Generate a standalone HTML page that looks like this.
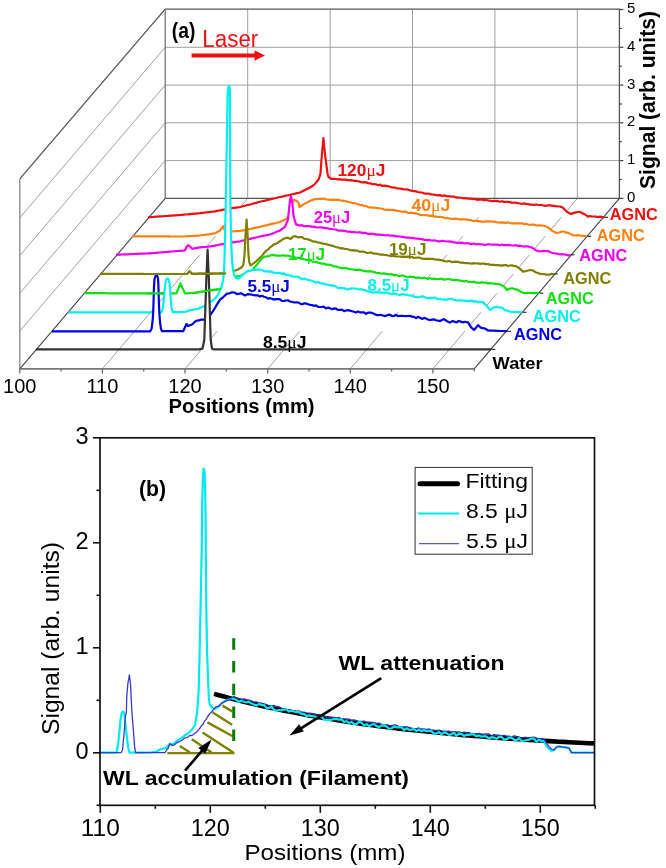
<!DOCTYPE html>
<html><head><meta charset="utf-8"><style>
html,body{margin:0;padding:0;background:#fff;}
body{width:666px;height:868px;position:relative;overflow:hidden;font-family:"Liberation Sans",sans-serif;}
</style></head><body>
<svg width="666" height="868" viewBox="0 0 666 868" style="position:absolute;left:0;top:0;will-change:transform">
<rect width="666" height="868" fill="#fff"/>
<g stroke="#a0a0a0" stroke-width="1" fill="none">
<line x1="165.2" y1="160.6" x2="619.4" y2="160.6"/>
<line x1="19.8" y1="331.1" x2="165.2" y2="160.6"/>
<line x1="165.2" y1="122.8" x2="619.4" y2="122.8"/>
<line x1="19.8" y1="293.3" x2="165.2" y2="122.8"/>
<line x1="165.2" y1="85.1" x2="619.4" y2="85.1"/>
<line x1="19.8" y1="255.6" x2="165.2" y2="85.1"/>
<line x1="165.2" y1="47.3" x2="619.4" y2="47.3"/>
<line x1="19.8" y1="217.8" x2="165.2" y2="47.3"/>
<line x1="247.7" y1="9.2" x2="247.7" y2="198.4"/>
<line x1="102.4" y1="368.9" x2="247.7" y2="198.4"/>
<line x1="330.2" y1="9.2" x2="330.2" y2="198.4"/>
<line x1="185.0" y1="368.9" x2="330.2" y2="198.4"/>
<line x1="412.5" y1="9.2" x2="412.5" y2="198.4"/>
<line x1="267.7" y1="368.9" x2="412.5" y2="198.4"/>
<line x1="494.9" y1="9.2" x2="494.9" y2="198.4"/>
<line x1="350.3" y1="368.9" x2="494.9" y2="198.4"/>
<line x1="577.3" y1="9.2" x2="577.3" y2="198.4"/>
<line x1="432.9" y1="368.9" x2="577.3" y2="198.4"/>
</g>
<g stroke="#555" stroke-width="1.3" fill="none">
<polyline points="19.8,178.9 165.2,9.2 619.4,9.2 619.4,198.4 165.2,198.4"/>
<line x1="19.8" y1="368.9" x2="19.8" y2="178.9" stroke="#888"/>
<line x1="165.2" y1="9.2" x2="165.2" y2="198.4" stroke="#777"/>
<line x1="19.8" y1="368.9" x2="165.2" y2="198.4" stroke="#444" stroke-width="1.1"/>
<line x1="474.2" y1="368.9" x2="619.4" y2="198.4" stroke="#444" stroke-width="1.1"/>
<line x1="19.8" y1="368.9" x2="474.2" y2="368.9" stroke="#777" stroke-width="1.8"/>
</g>
<g stroke="#444" stroke-width="1.2">
<line x1="619.4" y1="198.4" x2="623.4" y2="198.4"/>
<line x1="619.4" y1="179.5" x2="621.9" y2="179.5"/>
<line x1="619.4" y1="160.6" x2="623.4" y2="160.6"/>
<line x1="619.4" y1="141.7" x2="621.9" y2="141.7"/>
<line x1="619.4" y1="122.8" x2="623.4" y2="122.8"/>
<line x1="619.4" y1="104.0" x2="621.9" y2="104.0"/>
<line x1="619.4" y1="85.1" x2="623.4" y2="85.1"/>
<line x1="619.4" y1="66.2" x2="621.9" y2="66.2"/>
<line x1="619.4" y1="47.3" x2="623.4" y2="47.3"/>
<line x1="619.4" y1="28.4" x2="621.9" y2="28.4"/>
<line x1="619.4" y1="9.5" x2="623.4" y2="9.5"/>
</g>
<g stroke="#666" stroke-width="1.2">
<line x1="19.8" y1="368.9" x2="19.8" y2="373.4"/>
<line x1="61.1" y1="368.9" x2="61.1" y2="371.4"/>
<line x1="102.4" y1="368.9" x2="102.4" y2="373.4"/>
<line x1="143.7" y1="368.9" x2="143.7" y2="371.4"/>
<line x1="185.0" y1="368.9" x2="185.0" y2="373.4"/>
<line x1="226.3" y1="368.9" x2="226.3" y2="371.4"/>
<line x1="267.7" y1="368.9" x2="267.7" y2="373.4"/>
<line x1="309.0" y1="368.9" x2="309.0" y2="371.4"/>
<line x1="350.3" y1="368.9" x2="350.3" y2="373.4"/>
<line x1="391.6" y1="368.9" x2="391.6" y2="371.4"/>
<line x1="432.9" y1="368.9" x2="432.9" y2="373.4"/>
<line x1="474.2" y1="368.9" x2="474.2" y2="371.4"/>
</g>
<polygon points="148.0,217.3 150.0,217.2 152.0,217.0 154.0,216.9 156.0,216.7 158.0,216.6 160.0,216.4 162.0,216.3 164.0,216.2 166.0,216.0 168.0,215.9 170.0,215.7 172.0,215.6 174.0,215.4 176.0,215.3 178.0,215.1 180.0,215.0 182.0,214.8 184.0,214.6 186.0,214.5 188.0,214.3 190.0,214.1 192.0,213.9 194.0,213.7 196.0,213.6 198.0,213.4 200.0,213.2 202.1,212.9 204.3,212.7 206.4,212.4 208.6,212.1 210.7,211.8 212.9,211.6 215.0,211.3 217.1,210.9 219.3,210.5 221.4,210.1 223.6,209.7 225.7,209.3 227.9,208.9 230.0,208.5 232.0,208.2 234.0,207.9 236.0,207.6 238.0,207.3 240.0,207.0 242.0,206.5 244.0,206.0 246.0,205.5 248.0,205.0 250.0,204.5 252.0,204.0 254.0,203.4 256.0,202.9 258.0,202.3 260.0,201.8 262.0,201.3 264.0,200.8 266.0,200.4 268.0,199.9 270.0,199.4 272.0,198.9 274.0,198.4 276.0,198.0 278.0,197.5 280.0,197.0 282.0,196.6 284.0,196.1 286.0,195.7 288.0,195.2 290.0,194.8 292.0,194.3 294.0,193.8 296.0,193.4 298.0,192.9 300.0,192.5 302.0,191.5 304.0,190.5 306.0,189.5 308.0,188.5 310.0,187.5 314.0,184.9 316.3,182.2 318.6,179.5 320.4,174.0 321.8,156.0 323.4,138.0 325.2,156.0 327.6,174.0 328.5,177.0 331.0,178.8 333.1,178.8 335.2,178.8 337.3,179.5 339.4,179.1 341.6,179.7 343.7,179.7 345.8,179.6 347.9,180.2 350.0,180.4 352.0,180.2 354.0,180.9 356.0,180.8 358.0,181.2 360.0,181.8 362.0,182.5 364.0,182.1 366.0,182.4 368.0,183.1 370.0,183.3 372.0,184.1 374.0,184.1 376.0,184.3 378.0,185.2 380.0,184.6 382.0,185.8 384.0,185.6 386.0,185.8 388.0,186.2 390.0,186.7 392.0,187.6 394.0,187.3 396.0,188.1 398.0,188.5 400.0,188.7 402.0,188.9 404.0,189.5 406.0,189.3 408.0,189.7 410.0,190.2 412.0,191.0 414.0,191.1 416.0,191.4 418.0,192.0 420.0,192.3 422.0,192.5 424.0,193.3 426.0,193.6 428.0,193.5 430.0,194.1 432.0,194.4 434.0,194.6 436.0,195.2 438.0,195.3 440.0,195.1 442.0,196.0 444.0,195.4 446.0,195.9 448.0,196.5 450.0,196.2 452.0,196.7 454.0,196.5 456.0,197.4 458.0,197.7 460.0,197.7 462.0,198.0 464.0,198.4 466.0,198.1 468.0,198.6 470.0,198.7 472.0,198.9 474.0,198.9 476.0,199.5 478.0,199.8 480.0,199.5 482.0,199.7 484.0,200.1 486.0,199.7 488.0,200.5 490.0,200.6 492.0,201.2 494.0,201.2 496.0,200.9 498.0,201.2 500.0,201.7 502.0,201.2 504.0,201.9 506.0,201.8 508.0,201.9 510.0,202.1 512.0,203.0 514.0,202.5 516.0,202.8 518.0,203.2 520.0,203.5 522.0,204.0 524.0,203.4 526.0,203.9 528.0,204.1 530.0,204.6 532.0,204.7 534.0,204.9 536.0,204.5 538.0,204.8 540.0,205.0 542.0,205.0 544.0,205.7 546.0,205.9 548.0,205.3 550.0,205.4 552.0,205.6 554.0,205.8 556.0,206.2 558.0,206.4 560.0,206.5 563.0,207.8 567.0,211.9 571.0,213.9 575.0,212.6 577.5,212.0 580.0,211.9 584.0,213.9 588.0,216.6 590.0,216.1 592.0,216.5 594.0,216.5 596.0,216.7 598.0,217.1 600.0,216.6 604.0,217.3 604.0,217.3 148.0,217.3" fill="#fff" stroke="none"/>
<polyline points="148.0,217.3 150.0,217.2 152.0,217.0 154.0,216.9 156.0,216.7 158.0,216.6 160.0,216.4 162.0,216.3 164.0,216.2 166.0,216.0 168.0,215.9 170.0,215.7 172.0,215.6 174.0,215.4 176.0,215.3 178.0,215.1 180.0,215.0 182.0,214.8 184.0,214.6 186.0,214.5 188.0,214.3 190.0,214.1 192.0,213.9 194.0,213.7 196.0,213.6 198.0,213.4 200.0,213.2 202.1,212.9 204.3,212.7 206.4,212.4 208.6,212.1 210.7,211.8 212.9,211.6 215.0,211.3 217.1,210.9 219.3,210.5 221.4,210.1 223.6,209.7 225.7,209.3 227.9,208.9 230.0,208.5 232.0,208.2 234.0,207.9 236.0,207.6 238.0,207.3 240.0,207.0 242.0,206.5 244.0,206.0 246.0,205.5 248.0,205.0 250.0,204.5 252.0,204.0 254.0,203.4 256.0,202.9 258.0,202.3 260.0,201.8 262.0,201.3 264.0,200.8 266.0,200.4 268.0,199.9 270.0,199.4 272.0,198.9 274.0,198.4 276.0,198.0 278.0,197.5 280.0,197.0 282.0,196.6 284.0,196.1 286.0,195.7 288.0,195.2 290.0,194.8 292.0,194.3 294.0,193.8 296.0,193.4 298.0,192.9 300.0,192.5 302.0,191.5 304.0,190.5 306.0,189.5 308.0,188.5 310.0,187.5 314.0,184.9 316.3,182.2 318.6,179.5 320.4,174.0 321.8,156.0 323.4,138.0 325.2,156.0 327.6,174.0 328.5,177.0 331.0,178.8 333.1,178.8 335.2,178.8 337.3,179.5 339.4,179.1 341.6,179.7 343.7,179.7 345.8,179.6 347.9,180.2 350.0,180.4 352.0,180.2 354.0,180.9 356.0,180.8 358.0,181.2 360.0,181.8 362.0,182.5 364.0,182.1 366.0,182.4 368.0,183.1 370.0,183.3 372.0,184.1 374.0,184.1 376.0,184.3 378.0,185.2 380.0,184.6 382.0,185.8 384.0,185.6 386.0,185.8 388.0,186.2 390.0,186.7 392.0,187.6 394.0,187.3 396.0,188.1 398.0,188.5 400.0,188.7 402.0,188.9 404.0,189.5 406.0,189.3 408.0,189.7 410.0,190.2 412.0,191.0 414.0,191.1 416.0,191.4 418.0,192.0 420.0,192.3 422.0,192.5 424.0,193.3 426.0,193.6 428.0,193.5 430.0,194.1 432.0,194.4 434.0,194.6 436.0,195.2 438.0,195.3 440.0,195.1 442.0,196.0 444.0,195.4 446.0,195.9 448.0,196.5 450.0,196.2 452.0,196.7 454.0,196.5 456.0,197.4 458.0,197.7 460.0,197.7 462.0,198.0 464.0,198.4 466.0,198.1 468.0,198.6 470.0,198.7 472.0,198.9 474.0,198.9 476.0,199.5 478.0,199.8 480.0,199.5 482.0,199.7 484.0,200.1 486.0,199.7 488.0,200.5 490.0,200.6 492.0,201.2 494.0,201.2 496.0,200.9 498.0,201.2 500.0,201.7 502.0,201.2 504.0,201.9 506.0,201.8 508.0,201.9 510.0,202.1 512.0,203.0 514.0,202.5 516.0,202.8 518.0,203.2 520.0,203.5 522.0,204.0 524.0,203.4 526.0,203.9 528.0,204.1 530.0,204.6 532.0,204.7 534.0,204.9 536.0,204.5 538.0,204.8 540.0,205.0 542.0,205.0 544.0,205.7 546.0,205.9 548.0,205.3 550.0,205.4 552.0,205.6 554.0,205.8 556.0,206.2 558.0,206.4 560.0,206.5 563.0,207.8 567.0,211.9 571.0,213.9 575.0,212.6 577.5,212.0 580.0,211.9 584.0,213.9 588.0,216.6 590.0,216.1 592.0,216.5 594.0,216.5 596.0,216.7 598.0,217.1 600.0,216.6 604.0,217.3" fill="none" stroke="#ee1010" stroke-width="2.2" stroke-linejoin="round" stroke-linecap="butt"/>
<line x1="604.0" y1="217.3" x2="608.0" y2="217.3" stroke="#333" stroke-width="1.2"/>
<polygon points="132.0,236.3 134.0,236.3 136.1,236.3 138.1,236.3 140.2,236.3 142.2,236.3 144.2,236.3 146.3,236.4 148.3,236.4 150.4,236.4 152.4,236.4 154.4,236.4 156.5,236.4 158.5,236.4 160.6,236.4 162.6,236.4 164.6,236.4 166.7,236.4 168.7,236.4 170.8,236.5 172.8,236.5 174.8,236.5 176.9,236.5 178.9,236.5 181.0,236.5 183.0,236.5 185.1,236.4 187.2,236.2 189.4,236.1 191.5,236.0 193.6,235.9 195.8,235.8 197.9,235.6 200.0,235.5 202.0,235.2 204.0,235.0 206.0,234.7 208.0,234.5 210.0,234.2 212.8,233.6 215.7,233.0 217.8,231.8 220.0,230.5 223.2,226.2 225.0,230.8 226.0,231.5 228.5,231.5 231.0,231.5 233.2,231.4 235.5,231.2 237.8,231.1 240.0,231.0 242.0,230.6 244.0,230.2 246.0,229.8 248.0,229.4 250.0,229.0 252.0,228.6 254.0,228.1 256.0,227.7 258.0,227.2 260.0,226.8 262.0,226.3 264.0,225.8 266.0,225.4 268.0,224.9 270.0,224.4 272.0,223.9 274.0,223.4 276.0,223.0 278.0,222.5 280.0,222.0 282.0,220.9 284.0,219.9 286.0,218.9 288.0,217.8 290.0,212.0 292.0,203.0 294.0,199.8 296.5,201.0 298.3,202.2 299.5,207.0 301.3,205.8 304.9,203.4 307.3,202.4 309.7,201.0 312.1,200.1 314.5,199.2 317.2,199.0 320.0,198.6 322.0,198.9 324.0,198.5 326.0,199.5 328.0,199.5 330.0,199.8 332.0,199.9 334.0,199.6 336.0,199.8 338.0,199.6 340.0,200.2 342.0,200.8 344.0,200.7 346.0,201.2 348.0,201.8 350.0,202.3 352.0,202.9 354.0,203.1 356.0,203.5 358.0,204.2 360.0,205.0 362.0,205.1 364.0,205.8 366.0,205.9 368.0,207.2 370.0,207.3 372.0,207.7 374.0,207.5 376.0,207.9 378.0,208.2 380.0,208.5 382.0,208.5 384.0,209.5 386.0,209.9 388.0,209.7 390.0,210.0 392.0,209.8 394.0,210.1 396.0,210.6 398.0,210.8 400.0,211.3 402.0,211.9 404.0,211.6 406.0,211.7 408.0,213.0 410.0,212.8 412.0,212.7 414.0,213.4 416.0,213.2 418.0,214.0 420.0,214.8 422.0,215.0 424.0,215.1 426.0,215.0 428.0,215.4 430.0,215.8 432.0,215.7 434.0,216.6 436.0,216.6 438.0,217.0 440.0,216.8 442.0,217.0 444.0,217.8 446.0,218.2 448.0,218.3 450.0,218.5 452.0,218.8 454.0,218.9 456.0,218.6 458.0,219.2 460.0,219.4 462.0,219.4 464.0,219.3 466.0,219.4 468.0,219.9 470.0,220.0 472.0,220.6 474.0,221.0 476.0,220.7 478.0,221.4 480.0,221.1 482.0,221.7 484.0,221.8 486.0,221.3 488.0,221.3 490.0,221.4 492.0,221.5 494.0,221.6 496.0,222.1 498.0,222.5 500.0,222.6 502.0,222.3 504.0,222.6 506.0,222.9 508.0,222.3 510.0,223.0 512.0,223.3 514.0,223.3 516.0,223.4 518.0,223.3 520.0,223.4 522.0,223.3 524.0,224.1 526.0,223.8 528.0,224.5 530.0,224.9 532.0,224.5 534.0,224.7 536.0,225.4 538.0,225.4 540.0,225.4 542.3,225.5 544.7,226.0 547.0,226.8 549.5,228.5 552.0,230.8 556.0,232.8 558.0,232.8 560.0,232.2 562.0,231.5 564.0,231.5 566.0,232.6 568.0,232.6 572.0,234.9 574.0,235.5 576.0,235.4 578.0,235.2 580.0,235.5 582.4,235.9 584.8,235.8 587.2,236.5 587.2,236.3 132.0,236.3" fill="#fff" stroke="none"/>
<polyline points="132.0,236.3 134.0,236.3 136.1,236.3 138.1,236.3 140.2,236.3 142.2,236.3 144.2,236.3 146.3,236.4 148.3,236.4 150.4,236.4 152.4,236.4 154.4,236.4 156.5,236.4 158.5,236.4 160.6,236.4 162.6,236.4 164.6,236.4 166.7,236.4 168.7,236.4 170.8,236.5 172.8,236.5 174.8,236.5 176.9,236.5 178.9,236.5 181.0,236.5 183.0,236.5 185.1,236.4 187.2,236.2 189.4,236.1 191.5,236.0 193.6,235.9 195.8,235.8 197.9,235.6 200.0,235.5 202.0,235.2 204.0,235.0 206.0,234.7 208.0,234.5 210.0,234.2 212.8,233.6 215.7,233.0 217.8,231.8 220.0,230.5 223.2,226.2 225.0,230.8 226.0,231.5 228.5,231.5 231.0,231.5 233.2,231.4 235.5,231.2 237.8,231.1 240.0,231.0 242.0,230.6 244.0,230.2 246.0,229.8 248.0,229.4 250.0,229.0 252.0,228.6 254.0,228.1 256.0,227.7 258.0,227.2 260.0,226.8 262.0,226.3 264.0,225.8 266.0,225.4 268.0,224.9 270.0,224.4 272.0,223.9 274.0,223.4 276.0,223.0 278.0,222.5 280.0,222.0 282.0,220.9 284.0,219.9 286.0,218.9 288.0,217.8 290.0,212.0 292.0,203.0 294.0,199.8 296.5,201.0 298.3,202.2 299.5,207.0 301.3,205.8 304.9,203.4 307.3,202.4 309.7,201.0 312.1,200.1 314.5,199.2 317.2,199.0 320.0,198.6 322.0,198.9 324.0,198.5 326.0,199.5 328.0,199.5 330.0,199.8 332.0,199.9 334.0,199.6 336.0,199.8 338.0,199.6 340.0,200.2 342.0,200.8 344.0,200.7 346.0,201.2 348.0,201.8 350.0,202.3 352.0,202.9 354.0,203.1 356.0,203.5 358.0,204.2 360.0,205.0 362.0,205.1 364.0,205.8 366.0,205.9 368.0,207.2 370.0,207.3 372.0,207.7 374.0,207.5 376.0,207.9 378.0,208.2 380.0,208.5 382.0,208.5 384.0,209.5 386.0,209.9 388.0,209.7 390.0,210.0 392.0,209.8 394.0,210.1 396.0,210.6 398.0,210.8 400.0,211.3 402.0,211.9 404.0,211.6 406.0,211.7 408.0,213.0 410.0,212.8 412.0,212.7 414.0,213.4 416.0,213.2 418.0,214.0 420.0,214.8 422.0,215.0 424.0,215.1 426.0,215.0 428.0,215.4 430.0,215.8 432.0,215.7 434.0,216.6 436.0,216.6 438.0,217.0 440.0,216.8 442.0,217.0 444.0,217.8 446.0,218.2 448.0,218.3 450.0,218.5 452.0,218.8 454.0,218.9 456.0,218.6 458.0,219.2 460.0,219.4 462.0,219.4 464.0,219.3 466.0,219.4 468.0,219.9 470.0,220.0 472.0,220.6 474.0,221.0 476.0,220.7 478.0,221.4 480.0,221.1 482.0,221.7 484.0,221.8 486.0,221.3 488.0,221.3 490.0,221.4 492.0,221.5 494.0,221.6 496.0,222.1 498.0,222.5 500.0,222.6 502.0,222.3 504.0,222.6 506.0,222.9 508.0,222.3 510.0,223.0 512.0,223.3 514.0,223.3 516.0,223.4 518.0,223.3 520.0,223.4 522.0,223.3 524.0,224.1 526.0,223.8 528.0,224.5 530.0,224.9 532.0,224.5 534.0,224.7 536.0,225.4 538.0,225.4 540.0,225.4 542.3,225.5 544.7,226.0 547.0,226.8 549.5,228.5 552.0,230.8 556.0,232.8 558.0,232.8 560.0,232.2 562.0,231.5 564.0,231.5 566.0,232.6 568.0,232.6 572.0,234.9 574.0,235.5 576.0,235.4 578.0,235.2 580.0,235.5 582.4,235.9 584.8,235.8 587.2,236.5" fill="none" stroke="#ff8010" stroke-width="2.2" stroke-linejoin="round" stroke-linecap="butt"/>
<line x1="587.2" y1="236.3" x2="591.2" y2="236.3" stroke="#333" stroke-width="1.2"/>
<polygon points="116.0,254.8 118.0,254.7 120.0,254.6 122.0,254.5 124.0,254.4 126.0,254.4 128.0,254.3 130.0,254.2 132.0,254.1 134.0,254.0 136.0,253.9 138.0,253.8 140.0,253.7 142.0,253.7 144.0,253.6 146.0,253.5 148.0,253.4 150.0,253.3 152.0,253.1 154.0,253.0 156.0,252.8 158.0,252.6 160.0,252.5 162.0,252.3 164.0,252.1 166.0,252.0 168.0,251.8 170.0,251.6 172.0,251.5 174.0,251.3 176.0,251.1 178.0,251.0 180.0,250.8 182.5,250.6 185.0,250.3 186.5,247.0 188.0,245.2 190.0,246.5 192.0,248.8 194.0,248.4 196.0,248.1 198.0,247.7 200.0,247.3 202.0,247.1 204.0,247.0 206.0,246.8 208.0,246.7 210.0,246.5 212.0,246.1 214.0,245.8 216.0,245.4 218.0,245.0 220.0,244.6 222.0,244.2 224.0,243.9 226.0,243.5 228.0,243.2 230.0,242.9 232.0,242.6 234.0,242.2 236.0,241.9 238.0,241.6 240.0,241.3 242.0,240.8 244.0,240.3 246.0,239.9 248.0,239.4 250.0,238.9 252.0,238.4 254.0,237.9 256.0,237.5 258.0,237.0 260.0,236.5 262.0,236.1 264.0,235.7 266.0,235.3 268.0,234.9 270.0,234.5 272.0,233.7 274.0,232.9 276.0,232.1 278.0,231.3 280.0,230.5 282.5,228.7 285.0,226.8 288.0,219.6 289.0,210.0 290.0,200.0 291.0,196.2 292.5,204.0 293.5,216.0 296.0,224.4 300.0,225.6 302.0,225.2 304.0,226.3 306.0,226.1 308.0,226.1 310.0,226.2 312.0,226.9 314.0,226.6 316.0,227.3 318.0,227.5 320.0,227.4 322.0,227.4 324.0,227.8 326.0,228.1 328.0,228.4 330.0,229.0 332.0,229.0 334.0,229.5 336.0,229.5 338.0,230.6 340.0,230.5 342.0,230.6 344.0,230.9 346.0,231.2 348.0,231.8 350.0,231.5 352.0,232.2 354.0,232.0 356.0,232.3 358.0,232.5 360.0,232.2 362.0,232.9 364.0,232.8 366.0,232.9 368.0,233.9 370.0,233.8 372.0,233.7 374.0,234.1 376.0,234.6 378.0,234.6 380.0,234.5 382.0,234.9 384.0,235.1 386.0,235.5 388.0,235.0 390.0,235.7 392.0,235.5 394.0,235.7 396.0,236.4 398.0,236.3 400.0,236.5 402.0,236.8 404.0,237.2 406.0,237.6 408.0,237.4 410.0,237.8 412.0,237.9 414.0,238.2 416.0,238.6 418.0,238.6 420.0,238.9 422.0,239.1 424.0,239.8 426.0,239.8 428.0,240.2 430.0,240.1 432.0,240.7 434.0,240.2 436.0,240.7 438.0,241.3 440.0,241.3 442.0,240.8 444.0,241.0 446.0,241.5 448.0,241.3 450.0,241.6 452.0,241.7 454.0,242.4 456.0,242.7 458.0,243.0 460.0,242.8 462.0,242.6 464.0,243.3 466.0,243.4 468.0,243.0 470.0,243.9 472.0,244.1 474.0,243.5 476.0,244.4 478.0,244.0 480.0,244.2 482.0,244.3 484.0,244.8 486.0,244.8 488.0,244.2 490.0,244.5 492.0,244.7 494.0,244.6 496.0,244.5 498.0,244.7 500.0,245.2 502.0,244.5 504.0,245.2 506.0,245.1 508.0,244.8 510.0,245.2 512.0,245.5 514.0,245.5 516.0,245.1 518.0,246.1 520.0,245.7 522.0,246.2 524.0,246.7 526.0,246.1 528.0,246.5 530.0,247.0 532.5,247.9 535.0,249.7 537.5,250.9 540.0,251.5 542.0,251.2 544.0,250.9 546.0,251.1 548.0,251.1 550.3,252.3 552.7,253.0 555.0,253.4 557.5,253.7 560.0,254.5 562.5,254.1 565.0,254.5 567.7,255.3 570.4,255.2 570.4,254.8 116.0,254.8" fill="#fff" stroke="none"/>
<polyline points="116.0,254.8 118.0,254.7 120.0,254.6 122.0,254.5 124.0,254.4 126.0,254.4 128.0,254.3 130.0,254.2 132.0,254.1 134.0,254.0 136.0,253.9 138.0,253.8 140.0,253.7 142.0,253.7 144.0,253.6 146.0,253.5 148.0,253.4 150.0,253.3 152.0,253.1 154.0,253.0 156.0,252.8 158.0,252.6 160.0,252.5 162.0,252.3 164.0,252.1 166.0,252.0 168.0,251.8 170.0,251.6 172.0,251.5 174.0,251.3 176.0,251.1 178.0,251.0 180.0,250.8 182.5,250.6 185.0,250.3 186.5,247.0 188.0,245.2 190.0,246.5 192.0,248.8 194.0,248.4 196.0,248.1 198.0,247.7 200.0,247.3 202.0,247.1 204.0,247.0 206.0,246.8 208.0,246.7 210.0,246.5 212.0,246.1 214.0,245.8 216.0,245.4 218.0,245.0 220.0,244.6 222.0,244.2 224.0,243.9 226.0,243.5 228.0,243.2 230.0,242.9 232.0,242.6 234.0,242.2 236.0,241.9 238.0,241.6 240.0,241.3 242.0,240.8 244.0,240.3 246.0,239.9 248.0,239.4 250.0,238.9 252.0,238.4 254.0,237.9 256.0,237.5 258.0,237.0 260.0,236.5 262.0,236.1 264.0,235.7 266.0,235.3 268.0,234.9 270.0,234.5 272.0,233.7 274.0,232.9 276.0,232.1 278.0,231.3 280.0,230.5 282.5,228.7 285.0,226.8 288.0,219.6 289.0,210.0 290.0,200.0 291.0,196.2 292.5,204.0 293.5,216.0 296.0,224.4 300.0,225.6 302.0,225.2 304.0,226.3 306.0,226.1 308.0,226.1 310.0,226.2 312.0,226.9 314.0,226.6 316.0,227.3 318.0,227.5 320.0,227.4 322.0,227.4 324.0,227.8 326.0,228.1 328.0,228.4 330.0,229.0 332.0,229.0 334.0,229.5 336.0,229.5 338.0,230.6 340.0,230.5 342.0,230.6 344.0,230.9 346.0,231.2 348.0,231.8 350.0,231.5 352.0,232.2 354.0,232.0 356.0,232.3 358.0,232.5 360.0,232.2 362.0,232.9 364.0,232.8 366.0,232.9 368.0,233.9 370.0,233.8 372.0,233.7 374.0,234.1 376.0,234.6 378.0,234.6 380.0,234.5 382.0,234.9 384.0,235.1 386.0,235.5 388.0,235.0 390.0,235.7 392.0,235.5 394.0,235.7 396.0,236.4 398.0,236.3 400.0,236.5 402.0,236.8 404.0,237.2 406.0,237.6 408.0,237.4 410.0,237.8 412.0,237.9 414.0,238.2 416.0,238.6 418.0,238.6 420.0,238.9 422.0,239.1 424.0,239.8 426.0,239.8 428.0,240.2 430.0,240.1 432.0,240.7 434.0,240.2 436.0,240.7 438.0,241.3 440.0,241.3 442.0,240.8 444.0,241.0 446.0,241.5 448.0,241.3 450.0,241.6 452.0,241.7 454.0,242.4 456.0,242.7 458.0,243.0 460.0,242.8 462.0,242.6 464.0,243.3 466.0,243.4 468.0,243.0 470.0,243.9 472.0,244.1 474.0,243.5 476.0,244.4 478.0,244.0 480.0,244.2 482.0,244.3 484.0,244.8 486.0,244.8 488.0,244.2 490.0,244.5 492.0,244.7 494.0,244.6 496.0,244.5 498.0,244.7 500.0,245.2 502.0,244.5 504.0,245.2 506.0,245.1 508.0,244.8 510.0,245.2 512.0,245.5 514.0,245.5 516.0,245.1 518.0,246.1 520.0,245.7 522.0,246.2 524.0,246.7 526.0,246.1 528.0,246.5 530.0,247.0 532.5,247.9 535.0,249.7 537.5,250.9 540.0,251.5 542.0,251.2 544.0,250.9 546.0,251.1 548.0,251.1 550.3,252.3 552.7,253.0 555.0,253.4 557.5,253.7 560.0,254.5 562.5,254.1 565.0,254.5 567.7,255.3 570.4,255.2" fill="none" stroke="#f000f0" stroke-width="2.2" stroke-linejoin="round" stroke-linecap="butt"/>
<line x1="570.4" y1="254.8" x2="574.4" y2="254.8" stroke="#333" stroke-width="1.2"/>
<polygon points="100.0,273.9 102.0,273.9 104.0,273.9 106.1,273.9 108.1,273.9 110.1,273.9 112.1,273.9 114.2,273.9 116.2,273.9 118.2,273.9 120.2,273.9 122.3,273.9 124.3,273.9 126.3,273.9 128.3,273.9 130.3,273.9 132.4,273.9 134.4,273.9 136.4,273.9 138.4,273.9 140.5,273.9 142.5,273.9 144.5,274.0 146.5,274.0 148.6,274.0 150.6,274.0 152.6,274.0 154.6,274.0 156.7,274.0 158.7,274.0 160.7,274.0 162.7,274.0 164.7,274.0 166.8,274.0 168.8,274.0 170.8,274.0 172.8,274.0 174.9,274.0 176.9,274.0 178.9,274.0 180.9,274.0 183.0,274.0 185.0,274.0 187.0,274.0 189.5,271.3 192.0,273.8 194.1,273.8 196.1,273.8 198.2,273.7 200.2,273.7 202.3,273.7 204.4,273.6 206.4,273.6 208.5,273.6 210.6,273.6 212.6,273.6 214.7,273.5 216.8,273.5 218.8,273.5 220.9,273.4 222.9,273.4 225.0,273.4 227.3,272.8 229.7,272.1 232.0,271.5 234.0,270.8 236.0,270.2 238.0,269.5 242.0,267.0 243.5,264.0 244.5,255.0 245.5,235.0 246.6,219.6 247.6,235.0 248.5,255.0 249.2,262.0 250.5,265.3 252.8,263.8 255.0,262.3 257.3,260.2 259.7,258.1 262.0,255.7 264.0,253.1 266.0,251.0 268.0,249.7 270.0,247.4 272.2,245.9 274.3,244.1 276.5,243.7 278.7,242.0 280.8,240.8 283.0,239.0 287.0,237.7 291.0,238.9 293.0,236.5 295.3,236.2 297.7,237.3 300.0,237.0 302.2,237.2 304.4,238.8 306.6,239.0 308.8,239.6 311.0,240.5 313.2,241.6 315.4,241.5 317.6,242.5 319.6,242.6 321.6,243.5 323.6,243.7 325.6,244.0 327.6,244.6 329.6,245.0 331.6,245.6 333.6,246.3 335.6,247.0 337.9,247.3 340.1,248.3 342.4,248.2 344.6,248.9 346.9,249.0 349.1,249.7 351.4,250.4 353.4,250.1 355.4,250.6 357.4,250.6 359.4,251.7 361.4,251.7 363.4,251.6 365.4,252.2 367.4,253.0 369.4,252.7 371.6,252.6 373.9,253.7 376.1,253.6 378.3,254.0 380.5,254.7 382.8,254.5 385.0,255.0 387.1,255.2 389.3,255.7 391.4,256.2 393.6,255.7 395.7,256.5 397.9,256.5 400.0,256.5 402.0,256.8 404.0,256.7 406.0,256.8 408.0,256.6 410.0,256.9 412.0,257.0 414.0,258.0 416.0,257.5 418.0,257.6 420.0,257.7 422.0,258.7 424.0,258.9 426.0,258.9 428.0,258.6 430.0,259.0 432.0,258.9 434.0,259.2 436.0,259.7 438.0,259.5 440.0,260.1 442.0,260.2 444.0,261.2 446.0,261.5 448.0,261.2 450.0,261.1 452.0,262.2 454.0,261.7 456.0,261.9 458.0,261.8 460.0,262.6 462.0,262.6 464.0,262.9 466.0,263.1 468.0,263.0 470.0,263.5 472.0,263.6 474.0,263.1 476.0,263.5 478.0,263.4 480.0,263.9 482.0,263.6 484.0,263.7 486.0,264.1 488.0,264.2 490.0,264.6 492.0,264.8 494.0,264.8 496.0,265.2 498.0,265.1 500.0,265.3 502.0,265.6 504.0,265.1 506.0,265.1 508.0,266.0 510.0,265.5 512.0,265.3 514.0,266.2 516.0,266.2 520.0,268.9 523.0,271.6 525.5,271.2 528.0,270.5 530.5,270.0 533.0,270.5 535.5,272.2 538.0,273.0 540.3,273.9 542.7,274.0 545.0,274.3 547.1,274.6 549.3,274.7 551.5,273.9 553.6,274.3 553.6,273.9 100.0,273.9" fill="#fff" stroke="none"/>
<polyline points="100.0,273.9 102.0,273.9 104.0,273.9 106.1,273.9 108.1,273.9 110.1,273.9 112.1,273.9 114.2,273.9 116.2,273.9 118.2,273.9 120.2,273.9 122.3,273.9 124.3,273.9 126.3,273.9 128.3,273.9 130.3,273.9 132.4,273.9 134.4,273.9 136.4,273.9 138.4,273.9 140.5,273.9 142.5,273.9 144.5,274.0 146.5,274.0 148.6,274.0 150.6,274.0 152.6,274.0 154.6,274.0 156.7,274.0 158.7,274.0 160.7,274.0 162.7,274.0 164.7,274.0 166.8,274.0 168.8,274.0 170.8,274.0 172.8,274.0 174.9,274.0 176.9,274.0 178.9,274.0 180.9,274.0 183.0,274.0 185.0,274.0 187.0,274.0 189.5,271.3 192.0,273.8 194.1,273.8 196.1,273.8 198.2,273.7 200.2,273.7 202.3,273.7 204.4,273.6 206.4,273.6 208.5,273.6 210.6,273.6 212.6,273.6 214.7,273.5 216.8,273.5 218.8,273.5 220.9,273.4 222.9,273.4 225.0,273.4 227.3,272.8 229.7,272.1 232.0,271.5 234.0,270.8 236.0,270.2 238.0,269.5 242.0,267.0 243.5,264.0 244.5,255.0 245.5,235.0 246.6,219.6 247.6,235.0 248.5,255.0 249.2,262.0 250.5,265.3 252.8,263.8 255.0,262.3 257.3,260.2 259.7,258.1 262.0,255.7 264.0,253.1 266.0,251.0 268.0,249.7 270.0,247.4 272.2,245.9 274.3,244.1 276.5,243.7 278.7,242.0 280.8,240.8 283.0,239.0 287.0,237.7 291.0,238.9 293.0,236.5 295.3,236.2 297.7,237.3 300.0,237.0 302.2,237.2 304.4,238.8 306.6,239.0 308.8,239.6 311.0,240.5 313.2,241.6 315.4,241.5 317.6,242.5 319.6,242.6 321.6,243.5 323.6,243.7 325.6,244.0 327.6,244.6 329.6,245.0 331.6,245.6 333.6,246.3 335.6,247.0 337.9,247.3 340.1,248.3 342.4,248.2 344.6,248.9 346.9,249.0 349.1,249.7 351.4,250.4 353.4,250.1 355.4,250.6 357.4,250.6 359.4,251.7 361.4,251.7 363.4,251.6 365.4,252.2 367.4,253.0 369.4,252.7 371.6,252.6 373.9,253.7 376.1,253.6 378.3,254.0 380.5,254.7 382.8,254.5 385.0,255.0 387.1,255.2 389.3,255.7 391.4,256.2 393.6,255.7 395.7,256.5 397.9,256.5 400.0,256.5 402.0,256.8 404.0,256.7 406.0,256.8 408.0,256.6 410.0,256.9 412.0,257.0 414.0,258.0 416.0,257.5 418.0,257.6 420.0,257.7 422.0,258.7 424.0,258.9 426.0,258.9 428.0,258.6 430.0,259.0 432.0,258.9 434.0,259.2 436.0,259.7 438.0,259.5 440.0,260.1 442.0,260.2 444.0,261.2 446.0,261.5 448.0,261.2 450.0,261.1 452.0,262.2 454.0,261.7 456.0,261.9 458.0,261.8 460.0,262.6 462.0,262.6 464.0,262.9 466.0,263.1 468.0,263.0 470.0,263.5 472.0,263.6 474.0,263.1 476.0,263.5 478.0,263.4 480.0,263.9 482.0,263.6 484.0,263.7 486.0,264.1 488.0,264.2 490.0,264.6 492.0,264.8 494.0,264.8 496.0,265.2 498.0,265.1 500.0,265.3 502.0,265.6 504.0,265.1 506.0,265.1 508.0,266.0 510.0,265.5 512.0,265.3 514.0,266.2 516.0,266.2 520.0,268.9 523.0,271.6 525.5,271.2 528.0,270.5 530.5,270.0 533.0,270.5 535.5,272.2 538.0,273.0 540.3,273.9 542.7,274.0 545.0,274.3 547.1,274.6 549.3,274.7 551.5,273.9 553.6,274.3" fill="none" stroke="#808000" stroke-width="2.2" stroke-linejoin="round" stroke-linecap="butt"/>
<line x1="553.6" y1="273.9" x2="557.6" y2="273.9" stroke="#333" stroke-width="1.2"/>
<polygon points="84.0,293.2 86.0,293.2 88.0,293.2 90.0,293.2 92.0,293.2 94.1,293.2 96.1,293.2 98.1,293.2 100.1,293.2 102.1,293.2 104.1,293.2 106.1,293.2 108.1,293.3 110.1,293.3 112.2,293.3 114.2,293.3 116.2,293.3 118.2,293.3 120.2,293.3 122.2,293.3 124.2,293.3 126.2,293.3 128.2,293.3 130.2,293.3 132.3,293.3 134.3,293.3 136.3,293.3 138.3,293.3 140.3,293.3 142.3,293.3 144.3,293.3 146.3,293.3 148.3,293.3 150.4,293.3 152.4,293.3 154.4,293.4 156.4,293.4 158.4,293.4 160.4,293.4 162.4,293.4 164.4,293.4 166.4,293.4 168.5,293.4 170.5,293.4 172.5,293.4 174.5,293.4 176.5,293.4 178.5,288.0 180.5,283.5 182.5,288.0 185.0,293.4 187.0,293.3 189.0,293.2 191.0,293.0 193.0,292.9 195.0,292.8 197.5,292.4 200.0,292.0 202.0,291.7 204.0,291.4 206.0,291.0 208.0,290.7 210.0,290.4 212.0,290.1 214.0,289.8 216.0,289.6 218.0,289.3 220.0,289.0 222.0,288.5 226.0,284.0 228.0,281.7 230.0,279.3 232.0,277.0 234.0,276.8 236.0,276.5 238.0,276.2 240.0,276.0 242.0,275.0 244.0,274.0 246.0,273.0 248.0,272.0 252.0,270.6 254.0,268.1 256.0,265.7 258.0,263.2 260.0,261.1 262.0,258.2 265.0,256.5 267.3,256.3 269.7,255.8 272.0,254.9 274.2,255.1 276.3,255.6 278.5,255.5 280.7,255.7 282.8,255.2 285.0,255.7 287.1,255.5 289.3,256.0 291.4,256.6 293.6,256.7 295.7,257.9 297.9,257.9 300.0,258.2 302.0,258.8 304.0,259.3 306.0,259.9 308.0,260.1 310.0,260.1 312.0,261.5 314.0,261.9 316.0,262.1 318.0,262.7 320.0,263.1 322.0,263.7 324.0,263.5 326.0,264.7 328.0,264.6 330.0,264.8 332.0,265.5 334.0,266.5 336.0,266.3 338.0,267.3 340.0,267.5 342.0,268.4 344.0,268.1 346.0,268.2 348.0,268.6 350.0,269.1 352.0,269.5 354.0,269.6 356.0,270.0 358.0,269.6 360.0,269.9 362.0,270.3 364.0,271.2 366.0,271.0 368.0,271.6 370.0,271.2 372.0,271.5 374.0,272.1 376.0,272.8 378.0,273.1 380.0,273.2 382.0,273.7 384.0,273.4 386.0,273.9 388.0,274.1 390.0,274.4 392.0,274.2 394.0,275.4 396.0,274.8 398.0,275.9 400.0,276.1 402.0,275.3 404.0,276.0 406.0,276.7 408.0,277.1 410.0,276.7 412.0,276.8 414.0,276.9 416.0,278.1 418.0,277.4 420.0,278.0 422.0,278.2 424.0,277.7 426.0,278.3 428.0,278.9 430.0,278.0 432.0,278.9 434.0,278.6 436.0,279.1 438.0,279.0 440.0,278.8 442.0,278.7 444.0,279.7 446.0,279.4 448.0,279.0 450.0,279.2 452.0,280.0 454.0,280.1 456.0,280.2 458.0,280.2 460.0,280.6 462.0,280.8 464.0,281.6 466.0,280.8 468.0,281.9 470.0,281.8 472.0,282.3 474.0,281.6 476.0,282.7 478.0,282.6 480.0,282.9 482.0,282.3 484.0,282.6 486.0,282.7 488.0,283.6 490.0,283.1 492.0,283.5 494.0,283.5 496.0,283.9 498.0,284.0 500.0,284.5 504.0,286.5 507.0,289.9 510.0,288.5 512.5,288.3 515.0,289.2 517.5,289.7 520.0,291.2 522.5,292.6 525.0,293.2 527.5,292.8 530.0,293.0 532.3,293.1 534.6,293.1 537.0,293.1 539.3,293.2 539.3,293.2 84.0,293.2" fill="#fff" stroke="none"/>
<polyline points="84.0,293.2 86.0,293.2 88.0,293.2 90.0,293.2 92.0,293.2 94.1,293.2 96.1,293.2 98.1,293.2 100.1,293.2 102.1,293.2 104.1,293.2 106.1,293.2 108.1,293.3 110.1,293.3 112.2,293.3 114.2,293.3 116.2,293.3 118.2,293.3 120.2,293.3 122.2,293.3 124.2,293.3 126.2,293.3 128.2,293.3 130.2,293.3 132.3,293.3 134.3,293.3 136.3,293.3 138.3,293.3 140.3,293.3 142.3,293.3 144.3,293.3 146.3,293.3 148.3,293.3 150.4,293.3 152.4,293.3 154.4,293.4 156.4,293.4 158.4,293.4 160.4,293.4 162.4,293.4 164.4,293.4 166.4,293.4 168.5,293.4 170.5,293.4 172.5,293.4 174.5,293.4 176.5,293.4 178.5,288.0 180.5,283.5 182.5,288.0 185.0,293.4 187.0,293.3 189.0,293.2 191.0,293.0 193.0,292.9 195.0,292.8 197.5,292.4 200.0,292.0 202.0,291.7 204.0,291.4 206.0,291.0 208.0,290.7 210.0,290.4 212.0,290.1 214.0,289.8 216.0,289.6 218.0,289.3 220.0,289.0 222.0,288.5 226.0,284.0 228.0,281.7 230.0,279.3 232.0,277.0 234.0,276.8 236.0,276.5 238.0,276.2 240.0,276.0 242.0,275.0 244.0,274.0 246.0,273.0 248.0,272.0 252.0,270.6 254.0,268.1 256.0,265.7 258.0,263.2 260.0,261.1 262.0,258.2 265.0,256.5 267.3,256.3 269.7,255.8 272.0,254.9 274.2,255.1 276.3,255.6 278.5,255.5 280.7,255.7 282.8,255.2 285.0,255.7 287.1,255.5 289.3,256.0 291.4,256.6 293.6,256.7 295.7,257.9 297.9,257.9 300.0,258.2 302.0,258.8 304.0,259.3 306.0,259.9 308.0,260.1 310.0,260.1 312.0,261.5 314.0,261.9 316.0,262.1 318.0,262.7 320.0,263.1 322.0,263.7 324.0,263.5 326.0,264.7 328.0,264.6 330.0,264.8 332.0,265.5 334.0,266.5 336.0,266.3 338.0,267.3 340.0,267.5 342.0,268.4 344.0,268.1 346.0,268.2 348.0,268.6 350.0,269.1 352.0,269.5 354.0,269.6 356.0,270.0 358.0,269.6 360.0,269.9 362.0,270.3 364.0,271.2 366.0,271.0 368.0,271.6 370.0,271.2 372.0,271.5 374.0,272.1 376.0,272.8 378.0,273.1 380.0,273.2 382.0,273.7 384.0,273.4 386.0,273.9 388.0,274.1 390.0,274.4 392.0,274.2 394.0,275.4 396.0,274.8 398.0,275.9 400.0,276.1 402.0,275.3 404.0,276.0 406.0,276.7 408.0,277.1 410.0,276.7 412.0,276.8 414.0,276.9 416.0,278.1 418.0,277.4 420.0,278.0 422.0,278.2 424.0,277.7 426.0,278.3 428.0,278.9 430.0,278.0 432.0,278.9 434.0,278.6 436.0,279.1 438.0,279.0 440.0,278.8 442.0,278.7 444.0,279.7 446.0,279.4 448.0,279.0 450.0,279.2 452.0,280.0 454.0,280.1 456.0,280.2 458.0,280.2 460.0,280.6 462.0,280.8 464.0,281.6 466.0,280.8 468.0,281.9 470.0,281.8 472.0,282.3 474.0,281.6 476.0,282.7 478.0,282.6 480.0,282.9 482.0,282.3 484.0,282.6 486.0,282.7 488.0,283.6 490.0,283.1 492.0,283.5 494.0,283.5 496.0,283.9 498.0,284.0 500.0,284.5 504.0,286.5 507.0,289.9 510.0,288.5 512.5,288.3 515.0,289.2 517.5,289.7 520.0,291.2 522.5,292.6 525.0,293.2 527.5,292.8 530.0,293.0 532.3,293.1 534.6,293.1 537.0,293.1 539.3,293.2" fill="none" stroke="#10e010" stroke-width="2.2" stroke-linejoin="round" stroke-linecap="butt"/>
<line x1="539.3" y1="293.2" x2="543.3" y2="293.2" stroke="#333" stroke-width="1.2"/>
<polygon points="68.0,312.3 70.0,312.3 72.1,312.3 74.1,312.3 76.1,312.3 78.2,312.3 80.2,312.3 82.2,312.3 84.3,312.3 86.3,312.3 88.3,312.3 90.4,312.3 92.4,312.3 94.5,312.3 96.5,312.3 98.5,312.3 100.6,312.3 102.6,312.3 104.6,312.3 106.7,312.3 108.7,312.3 110.7,312.3 112.8,312.3 114.8,312.3 116.8,312.3 118.9,312.3 120.9,312.3 122.9,312.3 125.0,312.3 127.0,312.3 129.0,312.3 131.1,312.3 133.1,312.3 135.1,312.3 137.2,312.3 139.2,312.3 141.3,312.3 143.3,312.3 145.3,312.3 147.4,312.3 149.4,312.3 151.4,312.3 153.5,312.3 155.5,312.3 157.5,312.3 159.6,312.3 161.6,312.3 162.8,308.0 163.8,300.0 164.6,290.0 165.4,283.0 166.3,279.5 167.5,278.3 168.7,279.5 169.5,283.0 170.2,290.0 170.8,300.0 171.6,308.0 172.8,312.3 174.8,312.2 176.9,312.2 178.9,312.1 180.9,312.1 183.0,312.1 185.0,312.0 187.5,311.1 190.0,310.2 192.0,309.9 194.0,309.5 196.0,309.1 198.0,308.8 200.3,307.7 202.7,306.7 205.0,305.6 207.5,304.0 210.0,302.4 214.0,299.6 218.0,295.0 220.0,290.4 222.0,285.8 223.3,278.4 224.1,270.0 224.6,255.0 225.2,230.0 225.8,200.0 226.5,160.0 227.2,120.0 227.6,95.0 228.3,86.5 229.2,85.8 229.8,88.0 229.9,95.0 230.0,120.0 230.2,160.0 230.4,200.0 230.9,230.0 231.5,250.0 232.2,262.0 233.0,270.0 234.2,275.5 236.0,278.2 238.5,278.6 240.0,277.5 244.0,273.8 248.0,270.6 250.0,271.1 252.0,269.9 254.0,269.8 256.0,270.0 258.0,269.4 260.0,269.7 262.0,269.8 264.0,271.1 266.0,271.3 268.0,271.6 270.0,271.4 272.0,271.9 274.0,272.7 276.0,273.1 278.0,272.8 280.0,273.0 282.0,273.9 284.0,273.3 286.0,274.9 288.0,274.9 290.0,275.5 292.0,276.4 294.0,276.7 296.0,276.7 298.0,276.8 300.0,278.0 302.0,279.2 304.0,278.4 306.0,279.5 308.0,279.7 310.0,280.5 312.0,280.7 314.0,281.8 316.0,282.7 318.0,282.0 320.0,282.9 322.0,283.6 324.0,283.6 326.0,284.5 328.0,284.7 330.0,285.4 332.0,285.4 334.0,285.9 336.0,286.5 338.0,288.1 340.0,288.0 342.0,288.1 344.0,287.8 346.0,289.1 348.0,289.4 350.0,288.6 352.0,288.3 354.0,288.5 356.0,288.5 358.0,289.0 360.0,289.4 362.0,289.2 364.0,289.9 366.0,290.5 368.0,291.4 370.0,291.8 372.0,292.6 374.0,292.6 376.0,292.2 378.0,292.4 380.0,292.7 382.0,292.7 384.0,292.8 386.0,292.5 388.0,293.1 390.0,293.6 392.0,294.5 394.0,293.4 396.0,294.1 398.0,294.5 400.0,295.1 402.0,294.2 404.0,294.5 406.0,294.6 408.0,295.1 410.0,295.4 412.0,295.6 414.0,296.8 416.0,296.9 418.0,297.3 420.0,297.0 422.0,296.4 424.0,296.6 426.0,297.9 428.0,298.4 430.0,297.9 432.0,298.2 434.0,297.5 436.0,298.3 438.0,299.3 440.0,298.8 442.0,299.5 444.0,299.6 446.0,299.9 448.0,298.9 450.0,298.8 452.0,299.0 454.0,299.7 456.0,300.1 458.0,300.7 460.0,300.1 462.0,300.6 464.0,300.7 466.0,301.1 468.0,300.8 470.0,301.1 472.0,300.4 474.0,301.8 476.0,301.1 478.0,302.4 480.0,301.9 483.0,302.2 487.0,306.2 490.0,310.0 493.0,307.6 497.0,306.9 499.5,307.5 502.0,307.6 505.0,310.3 507.5,310.6 510.0,311.6 512.5,311.8 515.0,311.9 517.5,312.0 520.0,312.2 522.5,312.3 522.5,312.3 68.0,312.3" fill="#fff" stroke="none"/>
<polyline points="68.0,312.3 70.0,312.3 72.1,312.3 74.1,312.3 76.1,312.3 78.2,312.3 80.2,312.3 82.2,312.3 84.3,312.3 86.3,312.3 88.3,312.3 90.4,312.3 92.4,312.3 94.5,312.3 96.5,312.3 98.5,312.3 100.6,312.3 102.6,312.3 104.6,312.3 106.7,312.3 108.7,312.3 110.7,312.3 112.8,312.3 114.8,312.3 116.8,312.3 118.9,312.3 120.9,312.3 122.9,312.3 125.0,312.3 127.0,312.3 129.0,312.3 131.1,312.3 133.1,312.3 135.1,312.3 137.2,312.3 139.2,312.3 141.3,312.3 143.3,312.3 145.3,312.3 147.4,312.3 149.4,312.3 151.4,312.3 153.5,312.3 155.5,312.3 157.5,312.3 159.6,312.3 161.6,312.3 162.8,308.0 163.8,300.0 164.6,290.0 165.4,283.0 166.3,279.5 167.5,278.3 168.7,279.5 169.5,283.0 170.2,290.0 170.8,300.0 171.6,308.0 172.8,312.3 174.8,312.2 176.9,312.2 178.9,312.1 180.9,312.1 183.0,312.1 185.0,312.0 187.5,311.1 190.0,310.2 192.0,309.9 194.0,309.5 196.0,309.1 198.0,308.8 200.3,307.7 202.7,306.7 205.0,305.6 207.5,304.0 210.0,302.4 214.0,299.6 218.0,295.0 220.0,290.4 222.0,285.8 223.3,278.4 224.1,270.0 224.6,255.0 225.2,230.0 225.8,200.0 226.5,160.0 227.2,120.0 227.6,95.0 228.3,86.5 229.2,85.8 229.8,88.0 229.9,95.0 230.0,120.0 230.2,160.0 230.4,200.0 230.9,230.0 231.5,250.0 232.2,262.0 233.0,270.0 234.2,275.5 236.0,278.2 238.5,278.6 240.0,277.5 244.0,273.8 248.0,270.6 250.0,271.1 252.0,269.9 254.0,269.8 256.0,270.0 258.0,269.4 260.0,269.7 262.0,269.8 264.0,271.1 266.0,271.3 268.0,271.6 270.0,271.4 272.0,271.9 274.0,272.7 276.0,273.1 278.0,272.8 280.0,273.0 282.0,273.9 284.0,273.3 286.0,274.9 288.0,274.9 290.0,275.5 292.0,276.4 294.0,276.7 296.0,276.7 298.0,276.8 300.0,278.0 302.0,279.2 304.0,278.4 306.0,279.5 308.0,279.7 310.0,280.5 312.0,280.7 314.0,281.8 316.0,282.7 318.0,282.0 320.0,282.9 322.0,283.6 324.0,283.6 326.0,284.5 328.0,284.7 330.0,285.4 332.0,285.4 334.0,285.9 336.0,286.5 338.0,288.1 340.0,288.0 342.0,288.1 344.0,287.8 346.0,289.1 348.0,289.4 350.0,288.6 352.0,288.3 354.0,288.5 356.0,288.5 358.0,289.0 360.0,289.4 362.0,289.2 364.0,289.9 366.0,290.5 368.0,291.4 370.0,291.8 372.0,292.6 374.0,292.6 376.0,292.2 378.0,292.4 380.0,292.7 382.0,292.7 384.0,292.8 386.0,292.5 388.0,293.1 390.0,293.6 392.0,294.5 394.0,293.4 396.0,294.1 398.0,294.5 400.0,295.1 402.0,294.2 404.0,294.5 406.0,294.6 408.0,295.1 410.0,295.4 412.0,295.6 414.0,296.8 416.0,296.9 418.0,297.3 420.0,297.0 422.0,296.4 424.0,296.6 426.0,297.9 428.0,298.4 430.0,297.9 432.0,298.2 434.0,297.5 436.0,298.3 438.0,299.3 440.0,298.8 442.0,299.5 444.0,299.6 446.0,299.9 448.0,298.9 450.0,298.8 452.0,299.0 454.0,299.7 456.0,300.1 458.0,300.7 460.0,300.1 462.0,300.6 464.0,300.7 466.0,301.1 468.0,300.8 470.0,301.1 472.0,300.4 474.0,301.8 476.0,301.1 478.0,302.4 480.0,301.9 483.0,302.2 487.0,306.2 490.0,310.0 493.0,307.6 497.0,306.9 499.5,307.5 502.0,307.6 505.0,310.3 507.5,310.6 510.0,311.6 512.5,311.8 515.0,311.9 517.5,312.0 520.0,312.2 522.5,312.3" fill="none" stroke="#00f0f0" stroke-width="2.2" stroke-linejoin="round" stroke-linecap="butt"/>
<line x1="522.5" y1="312.3" x2="526.5" y2="312.3" stroke="#333" stroke-width="1.2"/>
<polygon points="52.0,331.3 54.0,331.3 56.0,331.3 58.0,331.3 60.0,331.3 62.0,331.3 64.0,331.3 66.0,331.3 68.0,331.3 70.0,331.3 72.0,331.3 74.0,331.3 76.0,331.3 78.0,331.3 80.0,331.3 82.0,331.3 84.0,331.3 86.0,331.3 88.0,331.3 90.0,331.3 92.0,331.3 94.0,331.3 96.0,331.3 98.0,331.3 100.0,331.3 102.0,331.3 104.0,331.3 106.0,331.3 108.0,331.3 110.0,331.3 112.0,331.3 114.0,331.3 116.0,331.3 118.0,331.3 120.0,331.3 122.0,331.3 124.0,331.3 126.0,331.3 128.0,331.3 130.0,331.3 132.0,331.3 134.0,331.3 136.0,331.3 138.0,331.3 140.0,331.3 142.0,331.3 144.0,331.3 146.0,331.3 148.0,331.3 150.0,331.3 151.5,329.0 152.5,322.0 153.2,312.0 153.6,300.0 153.9,288.0 154.5,279.0 155.6,275.8 157.2,275.8 158.1,279.0 158.5,288.0 158.8,300.0 159.3,312.0 160.0,322.0 161.0,329.0 162.0,331.2 164.1,331.2 166.2,331.2 168.4,331.2 170.5,331.2 172.6,331.2 174.7,331.2 176.8,331.2 179.0,331.2 181.1,331.2 183.2,331.2 186.5,324.0 188.0,326.0 192.0,324.5 196.0,320.9 199.0,320.4 201.0,319.6 203.0,319.6 205.0,319.9 207.5,317.8 210.0,315.3 213.0,311.2 216.0,306.1 220.0,299.6 223.0,297.3 227.0,293.6 229.5,293.3 232.0,292.3 234.5,292.5 237.0,294.1 241.0,293.2 245.0,295.5 247.5,294.1 250.0,294.3 252.0,294.7 254.0,295.2 256.0,295.3 258.0,295.4 260.0,296.4 262.0,295.8 264.0,296.7 266.0,297.3 268.0,298.6 270.0,298.2 272.0,298.8 274.0,299.6 276.0,299.1 278.0,299.0 280.0,299.4 282.0,301.0 284.0,300.9 286.0,300.5 288.0,300.3 290.0,301.5 292.0,301.8 294.0,302.5 296.0,302.4 298.0,302.4 300.0,303.5 302.0,304.3 304.0,303.4 306.0,303.4 308.0,304.3 310.0,304.9 312.0,305.1 314.0,305.9 316.0,305.4 318.0,306.8 320.0,307.0 322.0,306.9 324.0,306.7 326.0,308.5 328.0,307.6 330.0,308.3 332.0,309.2 334.0,308.4 336.0,308.7 338.0,310.0 340.0,309.8 342.0,309.7 344.0,311.1 346.0,310.5 348.0,310.2 350.0,310.6 352.0,311.2 354.0,311.8 356.0,312.6 358.0,311.4 360.0,312.3 362.0,312.3 364.0,312.3 366.0,313.9 368.0,312.6 370.0,312.7 372.0,312.9 374.0,313.8 376.0,314.9 378.0,315.2 380.0,314.7 382.0,315.2 384.0,315.8 386.0,315.8 388.0,314.9 390.0,314.7 392.0,316.2 394.0,316.0 396.0,314.8 398.0,316.1 400.0,315.9 402.0,315.9 404.0,316.0 406.0,316.1 408.0,316.0 410.0,315.9 412.0,316.6 414.0,316.9 416.0,318.2 418.0,316.8 420.0,317.7 422.0,318.9 424.0,317.9 426.0,318.5 428.0,319.6 430.0,320.0 432.0,319.6 434.0,319.3 436.0,320.4 438.0,320.5 440.0,321.1 444.0,319.1 448.0,321.8 450.1,322.6 452.2,321.2 454.4,321.6 456.5,322.5 458.6,321.0 460.8,321.6 462.9,322.4 465.0,321.8 468.0,322.4 471.0,327.2 474.0,329.9 477.0,326.5 478.0,325.1 481.0,327.8 485.0,328.5 488.0,330.5 490.1,330.6 492.2,330.7 494.3,330.7 496.4,330.8 498.5,330.9 500.6,331.0 502.7,331.0 504.8,331.1 506.9,331.2 506.9,331.3 52.0,331.3" fill="#fff" stroke="none"/>
<polyline points="52.0,331.3 54.0,331.3 56.0,331.3 58.0,331.3 60.0,331.3 62.0,331.3 64.0,331.3 66.0,331.3 68.0,331.3 70.0,331.3 72.0,331.3 74.0,331.3 76.0,331.3 78.0,331.3 80.0,331.3 82.0,331.3 84.0,331.3 86.0,331.3 88.0,331.3 90.0,331.3 92.0,331.3 94.0,331.3 96.0,331.3 98.0,331.3 100.0,331.3 102.0,331.3 104.0,331.3 106.0,331.3 108.0,331.3 110.0,331.3 112.0,331.3 114.0,331.3 116.0,331.3 118.0,331.3 120.0,331.3 122.0,331.3 124.0,331.3 126.0,331.3 128.0,331.3 130.0,331.3 132.0,331.3 134.0,331.3 136.0,331.3 138.0,331.3 140.0,331.3 142.0,331.3 144.0,331.3 146.0,331.3 148.0,331.3 150.0,331.3 151.5,329.0 152.5,322.0 153.2,312.0 153.6,300.0 153.9,288.0 154.5,279.0 155.6,275.8 157.2,275.8 158.1,279.0 158.5,288.0 158.8,300.0 159.3,312.0 160.0,322.0 161.0,329.0 162.0,331.2 164.1,331.2 166.2,331.2 168.4,331.2 170.5,331.2 172.6,331.2 174.7,331.2 176.8,331.2 179.0,331.2 181.1,331.2 183.2,331.2 186.5,324.0 188.0,326.0 192.0,324.5 196.0,320.9 199.0,320.4 201.0,319.6 203.0,319.6 205.0,319.9 207.5,317.8 210.0,315.3 213.0,311.2 216.0,306.1 220.0,299.6 223.0,297.3 227.0,293.6 229.5,293.3 232.0,292.3 234.5,292.5 237.0,294.1 241.0,293.2 245.0,295.5 247.5,294.1 250.0,294.3 252.0,294.7 254.0,295.2 256.0,295.3 258.0,295.4 260.0,296.4 262.0,295.8 264.0,296.7 266.0,297.3 268.0,298.6 270.0,298.2 272.0,298.8 274.0,299.6 276.0,299.1 278.0,299.0 280.0,299.4 282.0,301.0 284.0,300.9 286.0,300.5 288.0,300.3 290.0,301.5 292.0,301.8 294.0,302.5 296.0,302.4 298.0,302.4 300.0,303.5 302.0,304.3 304.0,303.4 306.0,303.4 308.0,304.3 310.0,304.9 312.0,305.1 314.0,305.9 316.0,305.4 318.0,306.8 320.0,307.0 322.0,306.9 324.0,306.7 326.0,308.5 328.0,307.6 330.0,308.3 332.0,309.2 334.0,308.4 336.0,308.7 338.0,310.0 340.0,309.8 342.0,309.7 344.0,311.1 346.0,310.5 348.0,310.2 350.0,310.6 352.0,311.2 354.0,311.8 356.0,312.6 358.0,311.4 360.0,312.3 362.0,312.3 364.0,312.3 366.0,313.9 368.0,312.6 370.0,312.7 372.0,312.9 374.0,313.8 376.0,314.9 378.0,315.2 380.0,314.7 382.0,315.2 384.0,315.8 386.0,315.8 388.0,314.9 390.0,314.7 392.0,316.2 394.0,316.0 396.0,314.8 398.0,316.1 400.0,315.9 402.0,315.9 404.0,316.0 406.0,316.1 408.0,316.0 410.0,315.9 412.0,316.6 414.0,316.9 416.0,318.2 418.0,316.8 420.0,317.7 422.0,318.9 424.0,317.9 426.0,318.5 428.0,319.6 430.0,320.0 432.0,319.6 434.0,319.3 436.0,320.4 438.0,320.5 440.0,321.1 444.0,319.1 448.0,321.8 450.1,322.6 452.2,321.2 454.4,321.6 456.5,322.5 458.6,321.0 460.8,321.6 462.9,322.4 465.0,321.8 468.0,322.4 471.0,327.2 474.0,329.9 477.0,326.5 478.0,325.1 481.0,327.8 485.0,328.5 488.0,330.5 490.1,330.6 492.2,330.7 494.3,330.7 496.4,330.8 498.5,330.9 500.6,331.0 502.7,331.0 504.8,331.1 506.9,331.2" fill="none" stroke="#0000e6" stroke-width="2.2" stroke-linejoin="round" stroke-linecap="butt"/>
<line x1="506.9" y1="331.3" x2="510.9" y2="331.3" stroke="#333" stroke-width="1.2"/>
<polygon points="36.0,349.4 38.0,349.4 40.0,349.4 42.0,349.4 44.0,349.4 46.1,349.4 48.1,349.4 50.1,349.4 52.1,349.4 54.1,349.4 56.1,349.4 58.1,349.4 60.1,349.4 62.2,349.4 64.2,349.4 66.2,349.4 68.2,349.4 70.2,349.4 72.2,349.4 74.2,349.4 76.2,349.4 78.3,349.4 80.3,349.4 82.3,349.4 84.3,349.4 86.3,349.4 88.3,349.4 90.3,349.4 92.3,349.4 94.4,349.4 96.4,349.4 98.4,349.4 100.4,349.4 102.4,349.4 104.4,349.4 106.4,349.4 108.4,349.4 110.5,349.4 112.5,349.4 114.5,349.4 116.5,349.4 118.5,349.4 120.5,349.4 122.5,349.4 124.5,349.4 126.6,349.4 128.6,349.4 130.6,349.4 132.6,349.4 134.6,349.4 136.6,349.4 138.6,349.4 140.6,349.4 142.7,349.4 144.7,349.4 146.7,349.4 148.7,349.4 150.7,349.4 152.7,349.4 154.7,349.4 156.7,349.4 158.8,349.4 160.8,349.4 162.8,349.4 164.8,349.4 166.8,349.4 168.8,349.4 170.8,349.4 172.8,349.4 174.9,349.4 176.9,349.4 178.9,349.4 180.9,349.4 182.9,349.4 184.9,349.4 186.9,349.4 188.9,349.4 191.0,349.4 193.0,349.4 195.0,349.4 197.0,349.4 199.0,349.4 202.5,348.6 204.3,340.0 205.3,310.0 206.3,280.0 207.6,249.5 208.9,280.0 209.8,310.0 210.7,340.0 212.0,348.6 213.5,349.4 215.5,349.4 217.5,349.4 219.5,349.4 221.6,349.4 223.6,349.4 225.6,349.4 227.6,349.4 229.6,349.4 231.6,349.4 233.6,349.4 235.6,349.4 237.7,349.4 239.7,349.4 241.7,349.4 243.7,349.4 245.7,349.4 247.7,349.4 249.7,349.4 251.7,349.4 253.8,349.4 255.8,349.4 257.8,349.4 259.8,349.4 261.8,349.4 263.8,349.4 265.8,349.4 267.9,349.4 269.9,349.4 271.9,349.4 273.9,349.4 275.9,349.4 277.9,349.4 279.9,349.4 281.9,349.4 284.0,349.4 286.0,349.4 288.0,349.4 290.0,349.4 292.0,349.4 294.0,349.4 296.0,349.4 298.0,349.4 300.1,349.4 302.1,349.4 304.1,349.4 306.1,349.4 308.1,349.4 310.1,349.4 312.1,349.4 314.2,349.4 316.2,349.4 318.2,349.4 320.2,349.4 322.2,349.4 324.2,349.4 326.2,349.4 328.2,349.4 330.3,349.4 332.3,349.4 334.3,349.4 336.3,349.4 338.3,349.4 340.3,349.4 342.3,349.4 344.3,349.4 346.4,349.4 348.4,349.4 350.4,349.4 352.4,349.4 354.4,349.4 356.4,349.4 358.4,349.4 360.5,349.4 362.5,349.4 364.5,349.4 366.5,349.4 368.5,349.4 370.5,349.4 372.5,349.4 374.5,349.4 376.6,349.4 378.6,349.4 380.6,349.4 382.6,349.4 384.6,349.4 386.6,349.4 388.6,349.4 390.6,349.4 392.7,349.4 394.7,349.4 396.7,349.4 398.7,349.4 400.7,349.4 402.7,349.4 404.7,349.4 406.8,349.4 408.8,349.4 410.8,349.4 412.8,349.4 414.8,349.4 416.8,349.4 418.8,349.4 420.8,349.4 422.9,349.4 424.9,349.4 426.9,349.4 428.9,349.4 430.9,349.4 432.9,349.4 434.9,349.4 436.9,349.4 439.0,349.4 441.0,349.4 443.0,349.4 445.0,349.4 447.0,349.4 449.0,349.4 451.0,349.4 453.1,349.4 455.1,349.4 457.1,349.4 459.1,349.4 461.1,349.4 463.1,349.4 465.1,349.4 467.1,349.4 469.2,349.4 471.2,349.4 473.2,349.4 475.2,349.4 477.2,349.4 479.2,349.4 481.2,349.4 483.2,349.4 485.3,349.4 487.3,349.4 489.3,349.4 491.3,349.4 491.3,349.4 36.0,349.4" fill="#fff" stroke="none"/>
<polyline points="36.0,349.4 38.0,349.4 40.0,349.4 42.0,349.4 44.0,349.4 46.1,349.4 48.1,349.4 50.1,349.4 52.1,349.4 54.1,349.4 56.1,349.4 58.1,349.4 60.1,349.4 62.2,349.4 64.2,349.4 66.2,349.4 68.2,349.4 70.2,349.4 72.2,349.4 74.2,349.4 76.2,349.4 78.3,349.4 80.3,349.4 82.3,349.4 84.3,349.4 86.3,349.4 88.3,349.4 90.3,349.4 92.3,349.4 94.4,349.4 96.4,349.4 98.4,349.4 100.4,349.4 102.4,349.4 104.4,349.4 106.4,349.4 108.4,349.4 110.5,349.4 112.5,349.4 114.5,349.4 116.5,349.4 118.5,349.4 120.5,349.4 122.5,349.4 124.5,349.4 126.6,349.4 128.6,349.4 130.6,349.4 132.6,349.4 134.6,349.4 136.6,349.4 138.6,349.4 140.6,349.4 142.7,349.4 144.7,349.4 146.7,349.4 148.7,349.4 150.7,349.4 152.7,349.4 154.7,349.4 156.7,349.4 158.8,349.4 160.8,349.4 162.8,349.4 164.8,349.4 166.8,349.4 168.8,349.4 170.8,349.4 172.8,349.4 174.9,349.4 176.9,349.4 178.9,349.4 180.9,349.4 182.9,349.4 184.9,349.4 186.9,349.4 188.9,349.4 191.0,349.4 193.0,349.4 195.0,349.4 197.0,349.4 199.0,349.4 202.5,348.6 204.3,340.0 205.3,310.0 206.3,280.0 207.6,249.5 208.9,280.0 209.8,310.0 210.7,340.0 212.0,348.6 213.5,349.4 215.5,349.4 217.5,349.4 219.5,349.4 221.6,349.4 223.6,349.4 225.6,349.4 227.6,349.4 229.6,349.4 231.6,349.4 233.6,349.4 235.6,349.4 237.7,349.4 239.7,349.4 241.7,349.4 243.7,349.4 245.7,349.4 247.7,349.4 249.7,349.4 251.7,349.4 253.8,349.4 255.8,349.4 257.8,349.4 259.8,349.4 261.8,349.4 263.8,349.4 265.8,349.4 267.9,349.4 269.9,349.4 271.9,349.4 273.9,349.4 275.9,349.4 277.9,349.4 279.9,349.4 281.9,349.4 284.0,349.4 286.0,349.4 288.0,349.4 290.0,349.4 292.0,349.4 294.0,349.4 296.0,349.4 298.0,349.4 300.1,349.4 302.1,349.4 304.1,349.4 306.1,349.4 308.1,349.4 310.1,349.4 312.1,349.4 314.2,349.4 316.2,349.4 318.2,349.4 320.2,349.4 322.2,349.4 324.2,349.4 326.2,349.4 328.2,349.4 330.3,349.4 332.3,349.4 334.3,349.4 336.3,349.4 338.3,349.4 340.3,349.4 342.3,349.4 344.3,349.4 346.4,349.4 348.4,349.4 350.4,349.4 352.4,349.4 354.4,349.4 356.4,349.4 358.4,349.4 360.5,349.4 362.5,349.4 364.5,349.4 366.5,349.4 368.5,349.4 370.5,349.4 372.5,349.4 374.5,349.4 376.6,349.4 378.6,349.4 380.6,349.4 382.6,349.4 384.6,349.4 386.6,349.4 388.6,349.4 390.6,349.4 392.7,349.4 394.7,349.4 396.7,349.4 398.7,349.4 400.7,349.4 402.7,349.4 404.7,349.4 406.8,349.4 408.8,349.4 410.8,349.4 412.8,349.4 414.8,349.4 416.8,349.4 418.8,349.4 420.8,349.4 422.9,349.4 424.9,349.4 426.9,349.4 428.9,349.4 430.9,349.4 432.9,349.4 434.9,349.4 436.9,349.4 439.0,349.4 441.0,349.4 443.0,349.4 445.0,349.4 447.0,349.4 449.0,349.4 451.0,349.4 453.1,349.4 455.1,349.4 457.1,349.4 459.1,349.4 461.1,349.4 463.1,349.4 465.1,349.4 467.1,349.4 469.2,349.4 471.2,349.4 473.2,349.4 475.2,349.4 477.2,349.4 479.2,349.4 481.2,349.4 483.2,349.4 485.3,349.4 487.3,349.4 489.3,349.4 491.3,349.4" fill="none" stroke="#333333" stroke-width="2.2" stroke-linejoin="round" stroke-linecap="butt"/>
<line x1="491.3" y1="349.4" x2="495.3" y2="349.4" stroke="#333" stroke-width="1.2"/>
<polyline points="146.0,274.0 187.0,274.0 189.5,271.3 192.0,273.8 225.0,273.4 226.0,273.1" fill="none" stroke="#808000" stroke-width="2.2" stroke-linejoin="round"/>
<polyline points="146.0,293.3 164.0,293.4" fill="none" stroke="#10e010" stroke-width="2.2" stroke-linejoin="round"/>
<polyline points="195.0,292.8 200.0,292.0 210.0,290.4 220.0,289.0 221.0,288.8" fill="none" stroke="#10e010" stroke-width="2.2" stroke-linejoin="round"/>
<text x="337.4" y="176" font-family="Liberation Sans, sans-serif" font-size="17" font-weight="bold" fill="#ee1010" text-anchor="start" textLength="48" lengthAdjust="spacingAndGlyphs" >120<tspan font-family="Liberation Serif, serif" font-weight="normal">&#956;</tspan>J</text>
<text x="411.4" y="211.2" font-family="Liberation Sans, sans-serif" font-size="17" font-weight="bold" fill="#ff8010" text-anchor="start" textLength="39" lengthAdjust="spacingAndGlyphs" >40<tspan font-family="Liberation Serif, serif" font-weight="normal">&#956;</tspan>J</text>
<text x="313.7" y="222.6" font-family="Liberation Sans, sans-serif" font-size="17" font-weight="bold" fill="#f000f0" text-anchor="start" textLength="36.5" lengthAdjust="spacingAndGlyphs" >25<tspan font-family="Liberation Serif, serif" font-weight="normal">&#956;</tspan>J</text>
<text x="388.9" y="255.4" font-family="Liberation Sans, sans-serif" font-size="17" font-weight="bold" fill="#808000" text-anchor="start" textLength="37.5" lengthAdjust="spacingAndGlyphs" >19<tspan font-family="Liberation Serif, serif" font-weight="normal">&#956;</tspan>J</text>
<text x="288" y="260" font-family="Liberation Sans, sans-serif" font-size="17" font-weight="bold" fill="#10e010" text-anchor="start" textLength="37" lengthAdjust="spacingAndGlyphs" >17<tspan font-family="Liberation Serif, serif" font-weight="normal">&#956;</tspan>J</text>
<text x="367.6" y="291" font-family="Liberation Sans, sans-serif" font-size="17" font-weight="bold" fill="#00f0f0" text-anchor="start" textLength="42" lengthAdjust="spacingAndGlyphs" >8.5<tspan font-family="Liberation Serif, serif" font-weight="normal">&#956;</tspan>J</text>
<text x="247.4" y="292.2" font-family="Liberation Sans, sans-serif" font-size="17" font-weight="bold" fill="#0000e6" text-anchor="start" textLength="42.5" lengthAdjust="spacingAndGlyphs" >5.5<tspan font-family="Liberation Serif, serif" font-weight="normal">&#956;</tspan>J</text>
<text x="263" y="347.7" font-family="Liberation Sans, sans-serif" font-size="17" font-weight="bold" fill="#000" text-anchor="start" textLength="43.5" lengthAdjust="spacingAndGlyphs" >8.5<tspan font-family="Liberation Serif, serif" font-weight="normal">&#956;</tspan>J</text>
<text x="609.7" y="219.9" font-family="Liberation Sans, sans-serif" font-size="16.5" font-weight="bold" fill="#ee1010" text-anchor="start" textLength="48" lengthAdjust="spacingAndGlyphs" >AGNC</text>
<text x="596.8" y="240.6" font-family="Liberation Sans, sans-serif" font-size="16.5" font-weight="bold" fill="#ff8010" text-anchor="start" textLength="48" lengthAdjust="spacingAndGlyphs" >AGNC</text>
<text x="579.2" y="261.4" font-family="Liberation Sans, sans-serif" font-size="16.5" font-weight="bold" fill="#f000f0" text-anchor="start" textLength="48" lengthAdjust="spacingAndGlyphs" >AGNC</text>
<text x="563.2" y="284.0" font-family="Liberation Sans, sans-serif" font-size="16.5" font-weight="bold" fill="#808000" text-anchor="start" textLength="48" lengthAdjust="spacingAndGlyphs" >AGNC</text>
<text x="545.8" y="303.5" font-family="Liberation Sans, sans-serif" font-size="16.5" font-weight="bold" fill="#10e010" text-anchor="start" textLength="48" lengthAdjust="spacingAndGlyphs" >AGNC</text>
<text x="532.8" y="321.7" font-family="Liberation Sans, sans-serif" font-size="16.5" font-weight="bold" fill="#00f0f0" text-anchor="start" textLength="48" lengthAdjust="spacingAndGlyphs" >AGNC</text>
<text x="514" y="339.7" font-family="Liberation Sans, sans-serif" font-size="16.5" font-weight="bold" fill="#0000e6" text-anchor="start" textLength="48" lengthAdjust="spacingAndGlyphs" >AGNC</text>
<text x="492.6" y="368.8" font-family="Liberation Sans, sans-serif" font-size="16.5" font-weight="bold" fill="#000" text-anchor="start" textLength="50" lengthAdjust="spacingAndGlyphs" >Water</text>
<text x="627" y="201.8" font-family="Liberation Sans, sans-serif" font-size="15" font-weight="normal" fill="#000" text-anchor="start" >0</text>
<text x="627" y="164.0" font-family="Liberation Sans, sans-serif" font-size="15" font-weight="normal" fill="#000" text-anchor="start" >1</text>
<text x="627" y="126.2" font-family="Liberation Sans, sans-serif" font-size="15" font-weight="normal" fill="#000" text-anchor="start" >2</text>
<text x="627" y="88.5" font-family="Liberation Sans, sans-serif" font-size="15" font-weight="normal" fill="#000" text-anchor="start" >3</text>
<text x="627" y="50.7" font-family="Liberation Sans, sans-serif" font-size="15" font-weight="normal" fill="#000" text-anchor="start" >4</text>
<text x="627" y="12.9" font-family="Liberation Sans, sans-serif" font-size="15" font-weight="normal" fill="#000" text-anchor="start" >5</text>
<text transform="translate(654.8,189) rotate(-90)" font-family="Liberation Sans, sans-serif" font-size="22" font-weight="bold" fill="#000" textLength="178" lengthAdjust="spacingAndGlyphs">Signal (arb. units)</text>
<text x="19.8" y="393.2" font-family="Liberation Sans, sans-serif" font-size="20" font-weight="normal" fill="#000" text-anchor="middle" >100</text>
<text x="102.4" y="393.2" font-family="Liberation Sans, sans-serif" font-size="20" font-weight="normal" fill="#000" text-anchor="middle" >110</text>
<text x="185.0" y="393.2" font-family="Liberation Sans, sans-serif" font-size="20" font-weight="normal" fill="#000" text-anchor="middle" >120</text>
<text x="267.7" y="393.2" font-family="Liberation Sans, sans-serif" font-size="20" font-weight="normal" fill="#000" text-anchor="middle" >130</text>
<text x="350.3" y="393.2" font-family="Liberation Sans, sans-serif" font-size="20" font-weight="normal" fill="#000" text-anchor="middle" >140</text>
<text x="432.9" y="393.2" font-family="Liberation Sans, sans-serif" font-size="20" font-weight="normal" fill="#000" text-anchor="middle" >150</text>
<text x="168.6" y="413" font-family="Liberation Sans, sans-serif" font-size="20" font-weight="bold" fill="#000" text-anchor="start" textLength="146" lengthAdjust="spacingAndGlyphs" >Positions (mm)</text>
<text x="171.8" y="37.6" font-family="Liberation Sans, sans-serif" font-size="22" font-weight="bold" fill="#000" text-anchor="start" textLength="23.5" lengthAdjust="spacingAndGlyphs" >(a)</text>
<text x="202.3" y="47" font-family="Liberation Sans, sans-serif" font-size="23.5" font-weight="normal" fill="#ee1111" text-anchor="start" textLength="56" lengthAdjust="spacingAndGlyphs" >Laser</text>
<line x1="191.6" y1="55.5" x2="256" y2="55.5" stroke="#ee1111" stroke-width="3.8"/>
<polygon points="254.5,50.2 265,55.5 254.5,60.8" fill="#ee1111"/>
</svg>
<svg width="666" height="868" viewBox="0 0 666 868" style="position:absolute;left:0;top:0;will-change:transform">
<g stroke="#808000" stroke-width="2.4" fill="none" stroke-linecap="butt">
<line x1="167.4" y1="753.1" x2="234.5" y2="753.1"/>
<line x1="179.8" y1="745.9" x2="190" y2="752.5"/>
<line x1="191.8" y1="739.2" x2="211.6" y2="752.5"/>
<line x1="202.6" y1="732.6" x2="233.3" y2="752.5"/>
<line x1="207.4" y1="722.4" x2="232.7" y2="736.2"/>
<line x1="212.3" y1="712.2" x2="232.1" y2="724.8"/>
<line x1="222.5" y1="705.6" x2="232.1" y2="711.4"/>
</g>
<line x1="233.7" y1="638.2" x2="233.7" y2="752" stroke="#0a7a0a" stroke-width="3" stroke-dasharray="11.5 11.3"/>
<polyline points="214.0,693.9 219.0,695.3 224.0,696.6 229.0,698.0 234.0,699.2 239.0,700.5 244.0,701.8 249.0,703.0 254.0,704.1 259.0,705.3 264.0,706.4 269.0,707.5 274.0,708.6 279.0,709.6 284.0,710.7 289.0,711.6 294.0,712.6 299.0,713.6 304.0,714.5 309.0,715.4 314.0,716.3 319.0,717.2 324.0,718.0 329.0,718.8 334.0,719.6 339.0,720.4 344.0,721.2 349.0,722.0 354.0,722.7 359.0,723.4 364.0,724.1 369.0,724.8 374.0,725.4 379.0,726.1 384.0,726.7 389.0,727.4 394.0,728.0 399.0,728.6 404.0,729.1 409.0,729.7 414.0,730.2 419.0,730.8 424.0,731.3 429.0,731.8 434.0,732.3 439.0,732.8 444.0,733.3 449.0,733.8 454.0,734.2 459.0,734.7 464.0,735.1 469.0,735.5 474.0,735.9 479.0,736.3 484.0,736.7 489.0,737.1 494.0,737.5 499.0,737.9 504.0,738.2 509.0,738.6 514.0,738.9 519.0,739.3 524.0,739.6 529.0,739.9 534.0,740.2 539.0,740.5 544.0,740.8 549.0,741.1 554.0,741.4 559.0,741.7 564.0,741.9 569.0,742.2 574.0,742.5 579.0,742.7 584.0,743.0 589.0,743.2 594.0,743.4" fill="none" stroke="#000" stroke-width="4.6"/>
<polyline points="232.0,699.2 234.0,696.6 236.5,697.9 239.0,698.5 241.5,699.4 244.0,698.9 246.5,699.6 249.0,700.1 251.5,700.8 254.0,702.2 256.5,701.8 259.0,703.0 261.5,703.1 264.0,703.8 266.5,704.6 269.0,705.8 271.5,705.9 274.0,705.5 276.5,706.5 279.0,706.8 281.5,708.4 284.0,708.8 286.5,709.3 289.0,709.9 291.5,710.2 294.0,711.0 296.5,711.3 299.0,710.9 301.5,712.3 304.0,712.2 306.5,713.1 309.0,713.2 311.5,713.4 314.0,713.8 316.5,714.3 319.0,714.6 321.5,714.7 324.0,716.2 326.5,716.6 329.0,717.3 331.5,717.2 334.0,717.4 336.5,718.1 339.0,717.5 341.5,718.8 344.0,718.8 346.5,718.8 349.0,719.2 351.5,720.1 354.0,720.0 356.5,720.7 359.0,721.3 361.5,721.3 364.0,721.2 366.5,722.1 369.0,722.1 371.5,722.4 374.0,722.7 376.5,723.3 379.0,723.1 381.5,724.4 384.0,725.2 386.5,724.6 389.0,725.4 391.5,726.1 394.0,724.9 396.5,725.4 399.0,726.7 401.5,727.1 404.0,727.1 406.5,726.6 409.0,727.3 411.5,728.3 414.0,728.6 416.5,728.7 419.0,728.0 421.5,729.3 424.0,728.8 426.5,729.6 429.0,728.9 431.5,730.5 434.0,730.2 436.5,730.6 439.0,730.1 441.5,730.9 444.0,731.1 446.5,731.4 449.0,731.2 451.5,732.1 454.0,731.7 456.5,731.8 459.0,731.8 461.5,732.9 464.0,732.2 466.5,732.6 469.0,732.5 471.5,733.7 474.0,733.7 476.5,733.9 479.0,733.3 481.5,734.1 484.0,734.2 486.5,734.0 489.0,734.0 491.5,735.8 494.0,734.6 496.5,735.1 499.0,735.2 501.5,735.9 504.0,735.3 506.5,736.1 509.0,736.1 511.5,737.0 514.0,735.8 516.5,736.5 519.0,737.0 521.5,737.9 524.0,737.3 526.5,737.4 529.0,737.9 531.5,737.4 534.0,737.2 536.5,738.1 539.0,738.9 541.5,738.8 544.0,739.4" fill="none" stroke="#2c2ca8" stroke-width="1.3" stroke-linejoin="round"/>
<polyline points="100.0,752.7 116.5,752.7 118.0,745.0 119.4,732.0 120.5,720.0 121.7,713.0 123.0,711.4 124.2,713.0 125.5,725.0 127.0,738.0 128.3,748.0 129.5,752.7 140.0,752.7 150.0,752.5 156.0,751.8 160.0,749.4 166.0,747.9 170.0,743.7 172.0,744.9 175.0,742.5 180.0,738.9 185.0,735.3 190.0,731.7 192.0,729.5 195.0,725.0 197.2,712.0 198.7,690.0 199.7,650.0 200.7,600.0 201.7,550.0 202.3,500.0 202.9,478.0 203.5,468.7 204.4,470.0 205.2,490.0 205.6,520.0 206.2,600.0 207.0,650.0 208.1,680.0 208.9,700.0 210.0,705.0 211.5,707.0 213.0,708.5 215.0,708.8 218.0,707.0 221.0,704.0 224.0,701.6 228.0,699.8 232.0,698.5 234.0,699.0 236.5,700.0 239.0,701.8 241.5,700.9 244.0,701.7 246.5,702.5 249.0,701.8 251.5,703.5 254.0,704.5 256.5,705.6 259.0,703.9 261.5,705.1 264.0,705.0 266.5,707.9 269.0,708.0 271.5,706.5 274.0,710.0 276.5,710.5 279.0,710.0 281.5,710.4 284.0,709.5 286.5,709.5 289.0,711.6 291.5,710.6 294.0,711.5 296.5,712.2 299.0,712.0 301.5,713.8 304.0,714.2 306.5,716.0 309.0,715.4 311.5,716.2 314.0,716.2 316.5,717.2 319.0,716.9 321.5,716.8 324.0,719.5 326.5,719.9 329.0,719.8 331.5,719.8 334.0,719.0 336.5,719.1 339.0,719.7 341.5,719.3 344.0,722.0 346.5,721.2 349.0,723.0 351.5,721.9 354.0,724.0 356.5,724.1 359.0,721.7 361.5,722.7 364.0,725.3 366.5,724.2 369.0,726.2 371.5,724.7 374.0,724.0 376.5,726.1 379.0,726.9 381.5,725.6 384.0,725.3 386.5,726.4 389.0,728.7 391.5,728.4 394.0,726.6 396.5,727.3 399.0,727.2 401.5,727.3 404.0,730.0 406.5,728.3 409.0,729.8 411.5,729.7 414.0,729.2 416.5,731.2 419.0,729.5 421.5,731.4 424.0,730.0 426.5,731.2 429.0,730.8 431.5,731.2 434.0,733.7 436.5,733.4 439.0,732.1 441.5,734.2 444.0,732.3 446.5,733.1 449.0,734.8 451.5,734.3 454.0,732.8 456.5,735.9 459.0,733.6 461.5,734.0 464.0,735.9 466.5,734.7 469.0,734.8 471.5,734.3 474.0,734.5 476.5,736.3 479.0,735.4 481.5,736.8 484.0,736.2 486.5,736.7 489.0,738.5 491.5,737.2 494.0,737.6 496.5,738.8 499.0,736.8 501.5,736.8 504.0,739.4 506.5,739.3 509.0,737.7 511.5,737.7 514.0,739.6 516.5,740.4 519.0,738.2 521.5,740.8 524.0,740.7 526.5,740.0 529.0,739.6 531.5,738.7 534.0,738.6 536.5,741.8 539.0,739.6 541.5,741.2 544.0,741.2 546.5,746.2 549.0,748.7 551.5,750.9 554.0,750.0 556.5,747.1 559.0,746.3 561.5,746.8 564.0,747.2 566.5,747.7 569.0,748.2 571.5,752.6 574.0,752.6 576.5,752.6 579.0,752.6 581.5,752.6 584.0,752.6 586.5,752.6 589.0,752.6 591.5,752.6 594.0,752.6" fill="none" stroke="#00e8f0" stroke-width="2.2" stroke-linejoin="round"/>
<polyline points="100.0,752.7 121.0,752.7 122.5,750.0 124.2,732.0 125.5,716.0 126.4,711.8 126.7,697.3 127.8,684.2 129.4,674.9 130.5,684.0 131.2,698.0 131.9,712.0 133.5,732.0 134.7,748.0 135.7,752.7 165.0,752.7 166.5,750.0 168.0,748.5 170.0,743.7 172.0,745.5 173.5,745.2 175.0,744.3 177.0,742.5 178.5,742.1 180.0,741.3 181.5,740.4 183.0,739.5 184.5,738.1 186.0,737.7 188.0,737.0 190.0,735.3 191.5,735.6 193.0,734.7 195.0,733.2 197.0,731.7 198.5,729.9 200.0,728.0 201.5,725.7 203.0,724.4 204.5,721.1 206.0,719.6 208.0,716.0 209.5,714.0 211.0,712.4 212.5,710.8 214.0,708.8 216.0,706.8 218.0,706.4 219.5,705.7 221.0,704.0 222.5,702.6 224.0,702.2 226.0,700.8 228.0,700.4 230.0,699.0 232.0,699.2" fill="none" stroke="#3a3ac8" stroke-width="1.3" stroke-linejoin="round"/>
<polyline points="541.5,738.8 544.0,739.4 546.5,743.2 549.0,746.7 551.5,749.0 554.0,750.0 556.5,747.1 559.0,746.3 561.5,746.8 564.0,747.2 566.5,747.7 569.0,748.2 571.5,752.6 574.0,752.6 576.5,752.6 579.0,752.6 581.5,752.6 584.0,752.6 586.5,752.6 589.0,752.6 591.5,752.6 594.0,752.6" fill="none" stroke="#3a3ac8" stroke-width="1.3" stroke-linejoin="round"/>
<rect x="100" y="437.8" width="494.5" height="367.49999999999994" fill="none" stroke="#111" stroke-width="1.7"/>
<g stroke="#111" stroke-width="1.6">
<line x1="93" y1="437.8" x2="100" y2="437.8"/>
<line x1="96.5" y1="490.3" x2="100" y2="490.3"/>
<line x1="93" y1="542.8" x2="100" y2="542.8"/>
<line x1="96.5" y1="595.3" x2="100" y2="595.3"/>
<line x1="93" y1="647.8" x2="100" y2="647.8"/>
<line x1="96.5" y1="700.3" x2="100" y2="700.3"/>
<line x1="93" y1="752.8" x2="100" y2="752.8"/>
<line x1="96.5" y1="805.3" x2="100" y2="805.3"/>
<line x1="100.3" y1="805.3" x2="100.3" y2="812.8"/>
<line x1="155.3" y1="805.3" x2="155.3" y2="808.8"/>
<line x1="210.3" y1="805.3" x2="210.3" y2="812.8"/>
<line x1="265.3" y1="805.3" x2="265.3" y2="808.8"/>
<line x1="320.3" y1="805.3" x2="320.3" y2="812.8"/>
<line x1="375.3" y1="805.3" x2="375.3" y2="808.8"/>
<line x1="430.3" y1="805.3" x2="430.3" y2="812.8"/>
<line x1="485.3" y1="805.3" x2="485.3" y2="808.8"/>
<line x1="540.3" y1="805.3" x2="540.3" y2="812.8"/>
<line x1="595.3" y1="805.3" x2="595.3" y2="808.8"/>
</g>
<text x="88.5" y="444.2" font-family="Liberation Sans, sans-serif" font-size="23.5" font-weight="normal" fill="#000" text-anchor="end" >3</text>
<text x="88.5" y="549.2" font-family="Liberation Sans, sans-serif" font-size="23.5" font-weight="normal" fill="#000" text-anchor="end" >2</text>
<text x="88.5" y="654.2" font-family="Liberation Sans, sans-serif" font-size="23.5" font-weight="normal" fill="#000" text-anchor="end" >1</text>
<text x="88.5" y="759.2" font-family="Liberation Sans, sans-serif" font-size="23.5" font-weight="normal" fill="#000" text-anchor="end" >0</text>
<text x="100.3" y="835.6" font-family="Liberation Sans, sans-serif" font-size="23.5" font-weight="normal" fill="#000" text-anchor="middle" textLength="39" lengthAdjust="spacingAndGlyphs" >110</text>
<text x="210.3" y="835.6" font-family="Liberation Sans, sans-serif" font-size="23.5" font-weight="normal" fill="#000" text-anchor="middle" textLength="39" lengthAdjust="spacingAndGlyphs" >120</text>
<text x="320.3" y="835.6" font-family="Liberation Sans, sans-serif" font-size="23.5" font-weight="normal" fill="#000" text-anchor="middle" textLength="39" lengthAdjust="spacingAndGlyphs" >130</text>
<text x="430.3" y="835.6" font-family="Liberation Sans, sans-serif" font-size="23.5" font-weight="normal" fill="#000" text-anchor="middle" textLength="39" lengthAdjust="spacingAndGlyphs" >140</text>
<text x="540.3" y="835.6" font-family="Liberation Sans, sans-serif" font-size="23.5" font-weight="normal" fill="#000" text-anchor="middle" textLength="39" lengthAdjust="spacingAndGlyphs" >150</text>
<text x="244.5" y="860" font-family="Liberation Sans, sans-serif" font-size="22.5" font-weight="normal" fill="#000" text-anchor="start" textLength="161" lengthAdjust="spacingAndGlyphs" >Positions (mm)</text>
<text transform="translate(58.6,735) rotate(-90)" font-family="Liberation Sans, sans-serif" font-size="23" fill="#000" textLength="193" lengthAdjust="spacingAndGlyphs">Signal (arb. units)</text>
<text x="139" y="496.3" font-family="Liberation Sans, sans-serif" font-size="22" font-weight="bold" fill="#000" text-anchor="start" textLength="27" lengthAdjust="spacingAndGlyphs" >(b)</text>
<rect x="415.1" y="467.4" width="117.1" height="86.8" fill="#fff" stroke="#333" stroke-width="1"/>
<line x1="420" y1="483.8" x2="457.5" y2="483.8" stroke="#000" stroke-width="5" stroke-linecap="round"/>
<line x1="418" y1="513.6" x2="459" y2="513.6" stroke="#00e8f0" stroke-width="2"/>
<line x1="419" y1="543.7" x2="459" y2="543.7" stroke="#5a5ac8" stroke-width="1.2"/>
<text x="465.5" y="488.4" font-family="Liberation Sans, sans-serif" font-size="21" font-weight="normal" fill="#000" text-anchor="start" textLength="62.5" lengthAdjust="spacingAndGlyphs" >Fitting</text>
<text x="466" y="517.8" font-family="Liberation Sans, sans-serif" font-size="21" fill="#000" textLength="62" lengthAdjust="spacingAndGlyphs">8.5 <tspan font-family="Liberation Serif, serif">&#956;</tspan>J</text>
<text x="466" y="547.9" font-family="Liberation Sans, sans-serif" font-size="21" fill="#000" textLength="62" lengthAdjust="spacingAndGlyphs">5.5 <tspan font-family="Liberation Serif, serif">&#956;</tspan>J</text>
<text x="338.5" y="670" font-family="Liberation Sans, sans-serif" font-size="20.5" font-weight="bold" fill="#000" text-anchor="start" textLength="166" lengthAdjust="spacingAndGlyphs" >WL attenuation</text>
<text x="103" y="785" font-family="Liberation Sans, sans-serif" font-size="20.5" font-weight="bold" fill="#000" text-anchor="start" textLength="306" lengthAdjust="spacingAndGlyphs" >WL accumulation (Filament)</text>
<line x1="381.3" y1="678.2" x2="299.7" y2="729.1" stroke="#000" stroke-width="2.6"/>
<polygon points="289.5,735.4 299.1,724.3 303.7,731.6" fill="#000"/>
<line x1="185" y1="770.6" x2="203.2" y2="749.4" stroke="#000" stroke-width="2.6"/>
<polygon points="211.6,739.5 205.3,753.8 198.4,748.0" fill="#000"/>
</svg>
</body></html>
